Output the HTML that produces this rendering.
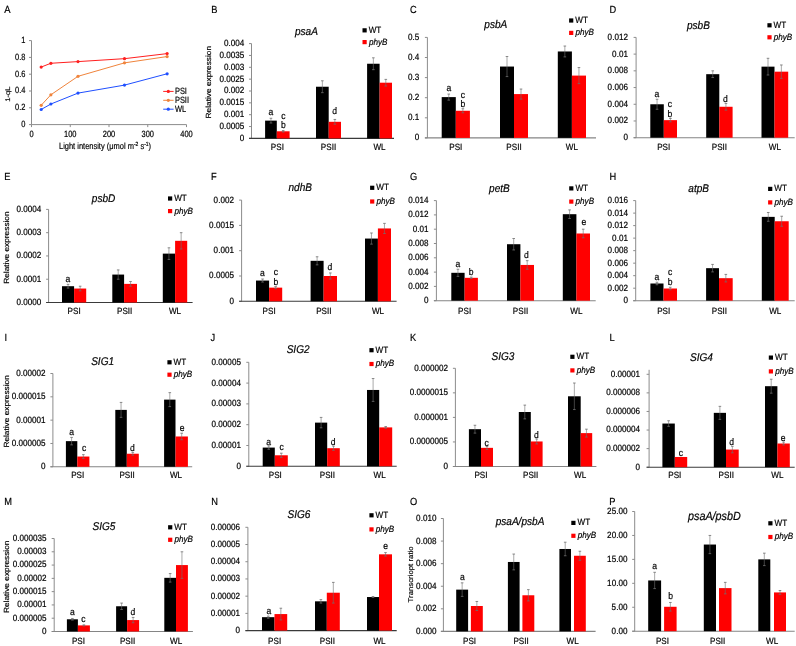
<!DOCTYPE html>
<html><head><meta charset="utf-8"><style>
html,body{margin:0;padding:0;background:#fff;}
svg{display:block;font-family:"Liberation Sans", sans-serif;}
</style></head><body>
<svg width="796" height="646" viewBox="0 0 796 646" xmlns="http://www.w3.org/2000/svg">
<defs><filter id="gs" x="0" y="0" width="796" height="646" filterUnits="userSpaceOnUse"><feColorMatrix type="saturate" values="0"/></filter></defs>
<rect width="796" height="646" fill="#fff"/>
<line x1="251.50" y1="43.60" x2="251.50" y2="138.40" stroke="#8c8c8c" stroke-width="1"/>
<line x1="249.00" y1="138.40" x2="251.50" y2="138.40" stroke="#8c8c8c" stroke-width="1"/>
<line x1="249.00" y1="126.55" x2="251.50" y2="126.55" stroke="#8c8c8c" stroke-width="1"/>
<line x1="249.00" y1="114.70" x2="251.50" y2="114.70" stroke="#8c8c8c" stroke-width="1"/>
<line x1="249.00" y1="102.85" x2="251.50" y2="102.85" stroke="#8c8c8c" stroke-width="1"/>
<line x1="249.00" y1="91.00" x2="251.50" y2="91.00" stroke="#8c8c8c" stroke-width="1"/>
<line x1="249.00" y1="79.15" x2="251.50" y2="79.15" stroke="#8c8c8c" stroke-width="1"/>
<line x1="249.00" y1="67.30" x2="251.50" y2="67.30" stroke="#8c8c8c" stroke-width="1"/>
<line x1="249.00" y1="55.45" x2="251.50" y2="55.45" stroke="#8c8c8c" stroke-width="1"/>
<line x1="249.00" y1="43.60" x2="251.50" y2="43.60" stroke="#8c8c8c" stroke-width="1"/>
<line x1="249.00" y1="138.40" x2="394.00" y2="138.40" stroke="#3a3a3a" stroke-width="1.1"/>
<rect x="265.10" y="120.62" width="11.70" height="17.78" fill="#000"/>
<rect x="276.80" y="131.29" width="12.80" height="7.11" fill="#ff0000"/>
<line x1="270.95" y1="118.25" x2="270.95" y2="123.00" stroke="#6e6e6e" stroke-width="0.6"/>
<line x1="269.65" y1="118.25" x2="272.25" y2="118.25" stroke="#6e6e6e" stroke-width="0.8"/>
<line x1="269.65" y1="123.00" x2="272.25" y2="123.00" stroke="#6e6e6e" stroke-width="0.8"/>
<line x1="283.20" y1="130.58" x2="283.20" y2="132.00" stroke="#6e6e6e" stroke-width="0.6"/>
<line x1="281.90" y1="130.58" x2="284.50" y2="130.58" stroke="#6e6e6e" stroke-width="0.8"/>
<line x1="281.90" y1="132.00" x2="284.50" y2="132.00" stroke="#6e6e6e" stroke-width="0.8"/>
<rect x="316.00" y="86.73" width="12.70" height="51.67" fill="#000"/>
<rect x="328.70" y="121.81" width="12.30" height="16.59" fill="#ff0000"/>
<line x1="322.35" y1="80.81" x2="322.35" y2="92.66" stroke="#6e6e6e" stroke-width="0.6"/>
<line x1="321.05" y1="80.81" x2="323.65" y2="80.81" stroke="#6e6e6e" stroke-width="0.8"/>
<line x1="321.05" y1="92.66" x2="323.65" y2="92.66" stroke="#6e6e6e" stroke-width="0.8"/>
<line x1="334.85" y1="119.44" x2="334.85" y2="124.18" stroke="#6e6e6e" stroke-width="0.6"/>
<line x1="333.55" y1="119.44" x2="336.15" y2="119.44" stroke="#6e6e6e" stroke-width="0.8"/>
<line x1="333.55" y1="124.18" x2="336.15" y2="124.18" stroke="#6e6e6e" stroke-width="0.8"/>
<rect x="367.10" y="63.74" width="12.50" height="74.66" fill="#000"/>
<rect x="379.60" y="82.70" width="12.40" height="55.70" fill="#ff0000"/>
<line x1="373.35" y1="57.82" x2="373.35" y2="69.67" stroke="#6e6e6e" stroke-width="0.6"/>
<line x1="372.05" y1="57.82" x2="374.65" y2="57.82" stroke="#6e6e6e" stroke-width="0.8"/>
<line x1="372.05" y1="69.67" x2="374.65" y2="69.67" stroke="#6e6e6e" stroke-width="0.8"/>
<line x1="385.80" y1="79.39" x2="385.80" y2="86.02" stroke="#6e6e6e" stroke-width="0.6"/>
<line x1="384.50" y1="79.39" x2="387.10" y2="79.39" stroke="#6e6e6e" stroke-width="0.8"/>
<line x1="384.50" y1="86.02" x2="387.10" y2="86.02" stroke="#6e6e6e" stroke-width="0.8"/>
<rect x="362.50" y="28.25" width="4.20" height="4.20" fill="#000"/>
<rect x="362.50" y="40.00" width="4.20" height="4.20" fill="#ff0000"/>
<line x1="427.40" y1="37.40" x2="427.40" y2="137.90" stroke="#8c8c8c" stroke-width="1"/>
<line x1="424.90" y1="137.90" x2="427.40" y2="137.90" stroke="#8c8c8c" stroke-width="1"/>
<line x1="424.90" y1="117.80" x2="427.40" y2="117.80" stroke="#8c8c8c" stroke-width="1"/>
<line x1="424.90" y1="97.70" x2="427.40" y2="97.70" stroke="#8c8c8c" stroke-width="1"/>
<line x1="424.90" y1="77.60" x2="427.40" y2="77.60" stroke="#8c8c8c" stroke-width="1"/>
<line x1="424.90" y1="57.50" x2="427.40" y2="57.50" stroke="#8c8c8c" stroke-width="1"/>
<line x1="424.90" y1="37.40" x2="427.40" y2="37.40" stroke="#8c8c8c" stroke-width="1"/>
<line x1="424.90" y1="137.90" x2="596.00" y2="137.90" stroke="#858585" stroke-width="1.1"/>
<rect x="441.70" y="97.10" width="14.10" height="40.80" fill="#000"/>
<rect x="455.80" y="110.77" width="14.10" height="27.14" fill="#ff0000"/>
<line x1="448.75" y1="94.08" x2="448.75" y2="100.11" stroke="#6e6e6e" stroke-width="0.6"/>
<line x1="447.45" y1="94.08" x2="450.05" y2="94.08" stroke="#6e6e6e" stroke-width="0.8"/>
<line x1="447.45" y1="100.11" x2="450.05" y2="100.11" stroke="#6e6e6e" stroke-width="0.8"/>
<line x1="462.85" y1="108.75" x2="462.85" y2="112.78" stroke="#6e6e6e" stroke-width="0.6"/>
<line x1="461.55" y1="108.75" x2="464.15" y2="108.75" stroke="#6e6e6e" stroke-width="0.8"/>
<line x1="461.55" y1="112.78" x2="464.15" y2="112.78" stroke="#6e6e6e" stroke-width="0.8"/>
<rect x="500.00" y="66.55" width="14.00" height="71.35" fill="#000"/>
<rect x="514.00" y="94.08" width="14.00" height="43.82" fill="#ff0000"/>
<line x1="507.00" y1="56.50" x2="507.00" y2="76.59" stroke="#6e6e6e" stroke-width="0.6"/>
<line x1="505.70" y1="56.50" x2="508.30" y2="56.50" stroke="#6e6e6e" stroke-width="0.8"/>
<line x1="505.70" y1="76.59" x2="508.30" y2="76.59" stroke="#6e6e6e" stroke-width="0.8"/>
<line x1="521.00" y1="89.06" x2="521.00" y2="99.11" stroke="#6e6e6e" stroke-width="0.6"/>
<line x1="519.70" y1="89.06" x2="522.30" y2="89.06" stroke="#6e6e6e" stroke-width="0.8"/>
<line x1="519.70" y1="99.11" x2="522.30" y2="99.11" stroke="#6e6e6e" stroke-width="0.8"/>
<rect x="557.80" y="51.47" width="14.10" height="86.43" fill="#000"/>
<rect x="571.90" y="75.59" width="14.10" height="62.31" fill="#ff0000"/>
<line x1="564.85" y1="46.04" x2="564.85" y2="56.90" stroke="#6e6e6e" stroke-width="0.6"/>
<line x1="563.55" y1="46.04" x2="566.15" y2="46.04" stroke="#6e6e6e" stroke-width="0.8"/>
<line x1="563.55" y1="56.90" x2="566.15" y2="56.90" stroke="#6e6e6e" stroke-width="0.8"/>
<line x1="578.95" y1="67.55" x2="578.95" y2="83.63" stroke="#6e6e6e" stroke-width="0.6"/>
<line x1="577.65" y1="67.55" x2="580.25" y2="67.55" stroke="#6e6e6e" stroke-width="0.8"/>
<line x1="577.65" y1="83.63" x2="580.25" y2="83.63" stroke="#6e6e6e" stroke-width="0.8"/>
<rect x="569.10" y="18.40" width="4.20" height="4.20" fill="#000"/>
<rect x="569.10" y="30.80" width="4.20" height="4.20" fill="#ff0000"/>
<line x1="636.10" y1="37.40" x2="636.10" y2="137.70" stroke="#8c8c8c" stroke-width="1"/>
<line x1="633.60" y1="137.70" x2="636.10" y2="137.70" stroke="#8c8c8c" stroke-width="1"/>
<line x1="633.60" y1="120.98" x2="636.10" y2="120.98" stroke="#8c8c8c" stroke-width="1"/>
<line x1="633.60" y1="104.27" x2="636.10" y2="104.27" stroke="#8c8c8c" stroke-width="1"/>
<line x1="633.60" y1="87.55" x2="636.10" y2="87.55" stroke="#8c8c8c" stroke-width="1"/>
<line x1="633.60" y1="70.83" x2="636.10" y2="70.83" stroke="#8c8c8c" stroke-width="1"/>
<line x1="633.60" y1="54.12" x2="636.10" y2="54.12" stroke="#8c8c8c" stroke-width="1"/>
<line x1="633.60" y1="37.40" x2="636.10" y2="37.40" stroke="#8c8c8c" stroke-width="1"/>
<line x1="633.60" y1="137.70" x2="794.70" y2="137.70" stroke="#858585" stroke-width="1.1"/>
<rect x="650.30" y="104.27" width="13.50" height="33.43" fill="#000"/>
<rect x="663.80" y="120.15" width="13.20" height="17.55" fill="#ff0000"/>
<line x1="657.05" y1="99.25" x2="657.05" y2="109.28" stroke="#6e6e6e" stroke-width="0.6"/>
<line x1="655.75" y1="99.25" x2="658.35" y2="99.25" stroke="#6e6e6e" stroke-width="0.8"/>
<line x1="655.75" y1="109.28" x2="658.35" y2="109.28" stroke="#6e6e6e" stroke-width="0.8"/>
<line x1="670.40" y1="118.48" x2="670.40" y2="121.82" stroke="#6e6e6e" stroke-width="0.6"/>
<line x1="669.10" y1="118.48" x2="671.70" y2="118.48" stroke="#6e6e6e" stroke-width="0.8"/>
<line x1="669.10" y1="121.82" x2="671.70" y2="121.82" stroke="#6e6e6e" stroke-width="0.8"/>
<rect x="706.20" y="74.18" width="13.10" height="63.52" fill="#000"/>
<rect x="719.30" y="106.77" width="13.30" height="30.93" fill="#ff0000"/>
<line x1="712.75" y1="70.83" x2="712.75" y2="77.52" stroke="#6e6e6e" stroke-width="0.6"/>
<line x1="711.45" y1="70.83" x2="714.05" y2="70.83" stroke="#6e6e6e" stroke-width="0.8"/>
<line x1="711.45" y1="77.52" x2="714.05" y2="77.52" stroke="#6e6e6e" stroke-width="0.8"/>
<line x1="725.95" y1="103.43" x2="725.95" y2="110.12" stroke="#6e6e6e" stroke-width="0.6"/>
<line x1="724.65" y1="103.43" x2="727.25" y2="103.43" stroke="#6e6e6e" stroke-width="0.8"/>
<line x1="724.65" y1="110.12" x2="727.25" y2="110.12" stroke="#6e6e6e" stroke-width="0.8"/>
<rect x="761.50" y="66.65" width="13.00" height="71.05" fill="#000"/>
<rect x="774.50" y="71.67" width="13.70" height="66.03" fill="#ff0000"/>
<line x1="768.00" y1="58.30" x2="768.00" y2="75.01" stroke="#6e6e6e" stroke-width="0.6"/>
<line x1="766.70" y1="58.30" x2="769.30" y2="58.30" stroke="#6e6e6e" stroke-width="0.8"/>
<line x1="766.70" y1="75.01" x2="769.30" y2="75.01" stroke="#6e6e6e" stroke-width="0.8"/>
<line x1="781.35" y1="64.98" x2="781.35" y2="78.36" stroke="#6e6e6e" stroke-width="0.6"/>
<line x1="780.05" y1="64.98" x2="782.65" y2="64.98" stroke="#6e6e6e" stroke-width="0.8"/>
<line x1="780.05" y1="78.36" x2="782.65" y2="78.36" stroke="#6e6e6e" stroke-width="0.8"/>
<rect x="767.40" y="23.20" width="4.20" height="4.20" fill="#000"/>
<rect x="767.40" y="35.20" width="4.20" height="4.20" fill="#ff0000"/>
<line x1="48.60" y1="209.40" x2="48.60" y2="302.50" stroke="#8c8c8c" stroke-width="1"/>
<line x1="46.10" y1="302.50" x2="48.60" y2="302.50" stroke="#8c8c8c" stroke-width="1"/>
<line x1="46.10" y1="279.23" x2="48.60" y2="279.23" stroke="#8c8c8c" stroke-width="1"/>
<line x1="46.10" y1="255.95" x2="48.60" y2="255.95" stroke="#8c8c8c" stroke-width="1"/>
<line x1="46.10" y1="232.68" x2="48.60" y2="232.68" stroke="#8c8c8c" stroke-width="1"/>
<line x1="46.10" y1="209.40" x2="48.60" y2="209.40" stroke="#8c8c8c" stroke-width="1"/>
<line x1="46.10" y1="302.50" x2="192.60" y2="302.50" stroke="#3a3a3a" stroke-width="1.1"/>
<rect x="62.00" y="286.21" width="12.10" height="16.29" fill="#000"/>
<rect x="74.10" y="288.54" width="12.10" height="13.96" fill="#ff0000"/>
<line x1="68.05" y1="284.35" x2="68.05" y2="288.07" stroke="#6e6e6e" stroke-width="0.6"/>
<line x1="66.75" y1="284.35" x2="69.35" y2="284.35" stroke="#6e6e6e" stroke-width="0.8"/>
<line x1="66.75" y1="288.07" x2="69.35" y2="288.07" stroke="#6e6e6e" stroke-width="0.8"/>
<line x1="80.15" y1="286.21" x2="80.15" y2="290.86" stroke="#6e6e6e" stroke-width="0.6"/>
<line x1="78.85" y1="286.21" x2="81.45" y2="286.21" stroke="#6e6e6e" stroke-width="0.8"/>
<line x1="78.85" y1="290.86" x2="81.45" y2="290.86" stroke="#6e6e6e" stroke-width="0.8"/>
<rect x="112.30" y="274.57" width="11.80" height="27.93" fill="#000"/>
<rect x="124.10" y="283.88" width="12.90" height="18.62" fill="#ff0000"/>
<line x1="118.20" y1="269.92" x2="118.20" y2="279.23" stroke="#6e6e6e" stroke-width="0.6"/>
<line x1="116.90" y1="269.92" x2="119.50" y2="269.92" stroke="#6e6e6e" stroke-width="0.8"/>
<line x1="116.90" y1="279.23" x2="119.50" y2="279.23" stroke="#6e6e6e" stroke-width="0.8"/>
<line x1="130.55" y1="281.55" x2="130.55" y2="286.21" stroke="#6e6e6e" stroke-width="0.6"/>
<line x1="129.25" y1="281.55" x2="131.85" y2="281.55" stroke="#6e6e6e" stroke-width="0.8"/>
<line x1="129.25" y1="286.21" x2="131.85" y2="286.21" stroke="#6e6e6e" stroke-width="0.8"/>
<rect x="162.80" y="253.62" width="12.30" height="48.88" fill="#000"/>
<rect x="175.10" y="240.82" width="12.10" height="61.68" fill="#ff0000"/>
<line x1="168.95" y1="247.80" x2="168.95" y2="259.44" stroke="#6e6e6e" stroke-width="0.6"/>
<line x1="167.65" y1="247.80" x2="170.25" y2="247.80" stroke="#6e6e6e" stroke-width="0.8"/>
<line x1="167.65" y1="259.44" x2="170.25" y2="259.44" stroke="#6e6e6e" stroke-width="0.8"/>
<line x1="181.15" y1="232.68" x2="181.15" y2="248.97" stroke="#6e6e6e" stroke-width="0.6"/>
<line x1="179.85" y1="232.68" x2="182.45" y2="232.68" stroke="#6e6e6e" stroke-width="0.8"/>
<line x1="179.85" y1="248.97" x2="182.45" y2="248.97" stroke="#6e6e6e" stroke-width="0.8"/>
<rect x="168.00" y="196.40" width="4.20" height="4.20" fill="#000"/>
<rect x="168.00" y="209.00" width="4.20" height="4.20" fill="#ff0000"/>
<line x1="241.60" y1="200.10" x2="241.60" y2="301.30" stroke="#8c8c8c" stroke-width="1"/>
<line x1="239.10" y1="301.30" x2="241.60" y2="301.30" stroke="#8c8c8c" stroke-width="1"/>
<line x1="239.10" y1="276.00" x2="241.60" y2="276.00" stroke="#8c8c8c" stroke-width="1"/>
<line x1="239.10" y1="250.70" x2="241.60" y2="250.70" stroke="#8c8c8c" stroke-width="1"/>
<line x1="239.10" y1="225.40" x2="241.60" y2="225.40" stroke="#8c8c8c" stroke-width="1"/>
<line x1="239.10" y1="200.10" x2="241.60" y2="200.10" stroke="#8c8c8c" stroke-width="1"/>
<line x1="239.10" y1="301.30" x2="396.60" y2="301.30" stroke="#3a3a3a" stroke-width="1.1"/>
<rect x="256.00" y="280.55" width="13.10" height="20.75" fill="#000"/>
<rect x="269.10" y="287.64" width="13.10" height="13.66" fill="#ff0000"/>
<line x1="262.55" y1="279.04" x2="262.55" y2="282.07" stroke="#6e6e6e" stroke-width="0.6"/>
<line x1="261.25" y1="279.04" x2="263.85" y2="279.04" stroke="#6e6e6e" stroke-width="0.8"/>
<line x1="261.25" y1="282.07" x2="263.85" y2="282.07" stroke="#6e6e6e" stroke-width="0.8"/>
<line x1="275.65" y1="286.63" x2="275.65" y2="288.65" stroke="#6e6e6e" stroke-width="0.6"/>
<line x1="274.35" y1="286.63" x2="276.95" y2="286.63" stroke="#6e6e6e" stroke-width="0.8"/>
<line x1="274.35" y1="288.65" x2="276.95" y2="288.65" stroke="#6e6e6e" stroke-width="0.8"/>
<rect x="310.60" y="260.82" width="13.00" height="40.48" fill="#000"/>
<rect x="323.60" y="276.00" width="13.40" height="25.30" fill="#ff0000"/>
<line x1="317.10" y1="256.77" x2="317.10" y2="264.87" stroke="#6e6e6e" stroke-width="0.6"/>
<line x1="315.80" y1="256.77" x2="318.40" y2="256.77" stroke="#6e6e6e" stroke-width="0.8"/>
<line x1="315.80" y1="264.87" x2="318.40" y2="264.87" stroke="#6e6e6e" stroke-width="0.8"/>
<line x1="330.30" y1="272.96" x2="330.30" y2="279.04" stroke="#6e6e6e" stroke-width="0.6"/>
<line x1="329.00" y1="272.96" x2="331.60" y2="272.96" stroke="#6e6e6e" stroke-width="0.8"/>
<line x1="329.00" y1="279.04" x2="331.60" y2="279.04" stroke="#6e6e6e" stroke-width="0.8"/>
<rect x="365.00" y="238.56" width="12.90" height="62.74" fill="#000"/>
<rect x="377.90" y="228.44" width="13.10" height="72.86" fill="#ff0000"/>
<line x1="371.45" y1="232.99" x2="371.45" y2="244.12" stroke="#6e6e6e" stroke-width="0.6"/>
<line x1="370.15" y1="232.99" x2="372.75" y2="232.99" stroke="#6e6e6e" stroke-width="0.8"/>
<line x1="370.15" y1="244.12" x2="372.75" y2="244.12" stroke="#6e6e6e" stroke-width="0.8"/>
<line x1="384.45" y1="223.38" x2="384.45" y2="233.50" stroke="#6e6e6e" stroke-width="0.6"/>
<line x1="383.15" y1="223.38" x2="385.75" y2="223.38" stroke="#6e6e6e" stroke-width="0.8"/>
<line x1="383.15" y1="233.50" x2="385.75" y2="233.50" stroke="#6e6e6e" stroke-width="0.8"/>
<rect x="370.10" y="185.70" width="4.20" height="4.20" fill="#000"/>
<rect x="370.10" y="199.40" width="4.20" height="4.20" fill="#ff0000"/>
<line x1="436.40" y1="200.60" x2="436.40" y2="300.70" stroke="#8c8c8c" stroke-width="1"/>
<line x1="433.90" y1="300.70" x2="436.40" y2="300.70" stroke="#8c8c8c" stroke-width="1"/>
<line x1="433.90" y1="286.40" x2="436.40" y2="286.40" stroke="#8c8c8c" stroke-width="1"/>
<line x1="433.90" y1="272.10" x2="436.40" y2="272.10" stroke="#8c8c8c" stroke-width="1"/>
<line x1="433.90" y1="257.80" x2="436.40" y2="257.80" stroke="#8c8c8c" stroke-width="1"/>
<line x1="433.90" y1="243.50" x2="436.40" y2="243.50" stroke="#8c8c8c" stroke-width="1"/>
<line x1="433.90" y1="229.20" x2="436.40" y2="229.20" stroke="#8c8c8c" stroke-width="1"/>
<line x1="433.90" y1="214.90" x2="436.40" y2="214.90" stroke="#8c8c8c" stroke-width="1"/>
<line x1="433.90" y1="200.60" x2="436.40" y2="200.60" stroke="#8c8c8c" stroke-width="1"/>
<line x1="433.90" y1="300.70" x2="595.70" y2="300.70" stroke="#858585" stroke-width="1.1"/>
<rect x="451.30" y="272.81" width="13.30" height="27.88" fill="#000"/>
<rect x="464.60" y="277.82" width="13.30" height="22.88" fill="#ff0000"/>
<line x1="457.95" y1="269.24" x2="457.95" y2="276.39" stroke="#6e6e6e" stroke-width="0.6"/>
<line x1="456.65" y1="269.24" x2="459.25" y2="269.24" stroke="#6e6e6e" stroke-width="0.8"/>
<line x1="456.65" y1="276.39" x2="459.25" y2="276.39" stroke="#6e6e6e" stroke-width="0.8"/>
<line x1="471.25" y1="277.11" x2="471.25" y2="278.53" stroke="#6e6e6e" stroke-width="0.6"/>
<line x1="469.95" y1="277.11" x2="472.55" y2="277.11" stroke="#6e6e6e" stroke-width="0.8"/>
<line x1="469.95" y1="278.53" x2="472.55" y2="278.53" stroke="#6e6e6e" stroke-width="0.8"/>
<rect x="507.00" y="244.21" width="13.40" height="56.49" fill="#000"/>
<rect x="520.40" y="264.95" width="13.60" height="35.75" fill="#ff0000"/>
<line x1="513.70" y1="238.50" x2="513.70" y2="249.94" stroke="#6e6e6e" stroke-width="0.6"/>
<line x1="512.40" y1="238.50" x2="515.00" y2="238.50" stroke="#6e6e6e" stroke-width="0.8"/>
<line x1="512.40" y1="249.94" x2="515.00" y2="249.94" stroke="#6e6e6e" stroke-width="0.8"/>
<line x1="527.20" y1="260.66" x2="527.20" y2="269.24" stroke="#6e6e6e" stroke-width="0.6"/>
<line x1="525.90" y1="260.66" x2="528.50" y2="260.66" stroke="#6e6e6e" stroke-width="0.8"/>
<line x1="525.90" y1="269.24" x2="528.50" y2="269.24" stroke="#6e6e6e" stroke-width="0.8"/>
<rect x="562.80" y="214.19" width="13.60" height="86.51" fill="#000"/>
<rect x="576.40" y="233.49" width="13.60" height="67.21" fill="#ff0000"/>
<line x1="569.60" y1="209.90" x2="569.60" y2="218.47" stroke="#6e6e6e" stroke-width="0.6"/>
<line x1="568.30" y1="209.90" x2="570.90" y2="209.90" stroke="#6e6e6e" stroke-width="0.8"/>
<line x1="568.30" y1="218.47" x2="570.90" y2="218.47" stroke="#6e6e6e" stroke-width="0.8"/>
<line x1="583.20" y1="229.20" x2="583.20" y2="237.78" stroke="#6e6e6e" stroke-width="0.6"/>
<line x1="581.90" y1="229.20" x2="584.50" y2="229.20" stroke="#6e6e6e" stroke-width="0.8"/>
<line x1="581.90" y1="237.78" x2="584.50" y2="237.78" stroke="#6e6e6e" stroke-width="0.8"/>
<rect x="569.20" y="186.30" width="4.20" height="4.20" fill="#000"/>
<rect x="569.20" y="199.50" width="4.20" height="4.20" fill="#ff0000"/>
<line x1="635.70" y1="200.60" x2="635.70" y2="300.70" stroke="#8c8c8c" stroke-width="1"/>
<line x1="633.20" y1="300.70" x2="635.70" y2="300.70" stroke="#8c8c8c" stroke-width="1"/>
<line x1="633.20" y1="288.19" x2="635.70" y2="288.19" stroke="#8c8c8c" stroke-width="1"/>
<line x1="633.20" y1="275.68" x2="635.70" y2="275.68" stroke="#8c8c8c" stroke-width="1"/>
<line x1="633.20" y1="263.16" x2="635.70" y2="263.16" stroke="#8c8c8c" stroke-width="1"/>
<line x1="633.20" y1="250.65" x2="635.70" y2="250.65" stroke="#8c8c8c" stroke-width="1"/>
<line x1="633.20" y1="238.14" x2="635.70" y2="238.14" stroke="#8c8c8c" stroke-width="1"/>
<line x1="633.20" y1="225.62" x2="635.70" y2="225.62" stroke="#8c8c8c" stroke-width="1"/>
<line x1="633.20" y1="213.11" x2="635.70" y2="213.11" stroke="#8c8c8c" stroke-width="1"/>
<line x1="633.20" y1="200.60" x2="635.70" y2="200.60" stroke="#8c8c8c" stroke-width="1"/>
<line x1="633.20" y1="300.70" x2="794.70" y2="300.70" stroke="#858585" stroke-width="1.1"/>
<rect x="650.40" y="283.50" width="13.10" height="17.20" fill="#000"/>
<rect x="663.50" y="288.50" width="13.50" height="12.20" fill="#ff0000"/>
<line x1="656.95" y1="282.24" x2="656.95" y2="284.75" stroke="#6e6e6e" stroke-width="0.6"/>
<line x1="655.65" y1="282.24" x2="658.25" y2="282.24" stroke="#6e6e6e" stroke-width="0.8"/>
<line x1="655.65" y1="284.75" x2="658.25" y2="284.75" stroke="#6e6e6e" stroke-width="0.8"/>
<line x1="670.25" y1="287.25" x2="670.25" y2="289.75" stroke="#6e6e6e" stroke-width="0.6"/>
<line x1="668.95" y1="287.25" x2="671.55" y2="287.25" stroke="#6e6e6e" stroke-width="0.8"/>
<line x1="668.95" y1="289.75" x2="671.55" y2="289.75" stroke="#6e6e6e" stroke-width="0.8"/>
<rect x="706.10" y="268.17" width="12.90" height="32.53" fill="#000"/>
<rect x="719.00" y="278.18" width="13.70" height="22.52" fill="#ff0000"/>
<line x1="712.55" y1="264.41" x2="712.55" y2="271.92" stroke="#6e6e6e" stroke-width="0.6"/>
<line x1="711.25" y1="264.41" x2="713.85" y2="264.41" stroke="#6e6e6e" stroke-width="0.8"/>
<line x1="711.25" y1="271.92" x2="713.85" y2="271.92" stroke="#6e6e6e" stroke-width="0.8"/>
<line x1="725.85" y1="274.42" x2="725.85" y2="281.93" stroke="#6e6e6e" stroke-width="0.6"/>
<line x1="724.55" y1="274.42" x2="727.15" y2="274.42" stroke="#6e6e6e" stroke-width="0.8"/>
<line x1="724.55" y1="281.93" x2="727.15" y2="281.93" stroke="#6e6e6e" stroke-width="0.8"/>
<rect x="761.80" y="216.87" width="12.90" height="83.83" fill="#000"/>
<rect x="774.70" y="221.25" width="14.00" height="79.45" fill="#ff0000"/>
<line x1="768.25" y1="212.49" x2="768.25" y2="221.25" stroke="#6e6e6e" stroke-width="0.6"/>
<line x1="766.95" y1="212.49" x2="769.55" y2="212.49" stroke="#6e6e6e" stroke-width="0.8"/>
<line x1="766.95" y1="221.25" x2="769.55" y2="221.25" stroke="#6e6e6e" stroke-width="0.8"/>
<line x1="781.70" y1="216.24" x2="781.70" y2="226.25" stroke="#6e6e6e" stroke-width="0.6"/>
<line x1="780.40" y1="216.24" x2="783.00" y2="216.24" stroke="#6e6e6e" stroke-width="0.8"/>
<line x1="780.40" y1="226.25" x2="783.00" y2="226.25" stroke="#6e6e6e" stroke-width="0.8"/>
<rect x="768.10" y="186.80" width="4.20" height="4.20" fill="#000"/>
<rect x="768.10" y="200.30" width="4.20" height="4.20" fill="#ff0000"/>
<line x1="52.90" y1="373.50" x2="52.90" y2="466.80" stroke="#8c8c8c" stroke-width="1"/>
<line x1="50.40" y1="466.80" x2="52.90" y2="466.80" stroke="#8c8c8c" stroke-width="1"/>
<line x1="50.40" y1="443.48" x2="52.90" y2="443.48" stroke="#8c8c8c" stroke-width="1"/>
<line x1="50.40" y1="420.15" x2="52.90" y2="420.15" stroke="#8c8c8c" stroke-width="1"/>
<line x1="50.40" y1="396.82" x2="52.90" y2="396.82" stroke="#8c8c8c" stroke-width="1"/>
<line x1="50.40" y1="373.50" x2="52.90" y2="373.50" stroke="#8c8c8c" stroke-width="1"/>
<line x1="50.40" y1="466.80" x2="192.20" y2="466.80" stroke="#858585" stroke-width="1.1"/>
<rect x="65.90" y="441.14" width="11.40" height="25.66" fill="#000"/>
<rect x="77.30" y="456.54" width="12.10" height="10.26" fill="#ff0000"/>
<line x1="71.60" y1="437.41" x2="71.60" y2="444.87" stroke="#6e6e6e" stroke-width="0.6"/>
<line x1="70.30" y1="437.41" x2="72.90" y2="437.41" stroke="#6e6e6e" stroke-width="0.8"/>
<line x1="70.30" y1="444.87" x2="72.90" y2="444.87" stroke="#6e6e6e" stroke-width="0.8"/>
<line x1="83.35" y1="454.67" x2="83.35" y2="458.40" stroke="#6e6e6e" stroke-width="0.6"/>
<line x1="82.05" y1="454.67" x2="84.65" y2="454.67" stroke="#6e6e6e" stroke-width="0.8"/>
<line x1="82.05" y1="458.40" x2="84.65" y2="458.40" stroke="#6e6e6e" stroke-width="0.8"/>
<rect x="115.30" y="409.89" width="11.50" height="56.91" fill="#000"/>
<rect x="126.80" y="453.74" width="12.00" height="13.06" fill="#ff0000"/>
<line x1="121.05" y1="402.42" x2="121.05" y2="417.35" stroke="#6e6e6e" stroke-width="0.6"/>
<line x1="119.75" y1="402.42" x2="122.35" y2="402.42" stroke="#6e6e6e" stroke-width="0.8"/>
<line x1="119.75" y1="417.35" x2="122.35" y2="417.35" stroke="#6e6e6e" stroke-width="0.8"/>
<line x1="132.80" y1="452.34" x2="132.80" y2="455.14" stroke="#6e6e6e" stroke-width="0.6"/>
<line x1="131.50" y1="452.34" x2="134.10" y2="452.34" stroke="#6e6e6e" stroke-width="0.8"/>
<line x1="131.50" y1="455.14" x2="134.10" y2="455.14" stroke="#6e6e6e" stroke-width="0.8"/>
<rect x="164.10" y="399.62" width="11.40" height="67.18" fill="#000"/>
<rect x="175.50" y="436.48" width="12.40" height="30.32" fill="#ff0000"/>
<line x1="169.80" y1="392.63" x2="169.80" y2="406.62" stroke="#6e6e6e" stroke-width="0.6"/>
<line x1="168.50" y1="392.63" x2="171.10" y2="392.63" stroke="#6e6e6e" stroke-width="0.8"/>
<line x1="168.50" y1="406.62" x2="171.10" y2="406.62" stroke="#6e6e6e" stroke-width="0.8"/>
<line x1="181.70" y1="433.21" x2="181.70" y2="439.74" stroke="#6e6e6e" stroke-width="0.6"/>
<line x1="180.40" y1="433.21" x2="183.00" y2="433.21" stroke="#6e6e6e" stroke-width="0.8"/>
<line x1="180.40" y1="439.74" x2="183.00" y2="439.74" stroke="#6e6e6e" stroke-width="0.8"/>
<rect x="167.40" y="360.20" width="4.20" height="4.20" fill="#000"/>
<rect x="167.40" y="372.60" width="4.20" height="4.20" fill="#ff0000"/>
<line x1="248.80" y1="362.30" x2="248.80" y2="466.30" stroke="#8c8c8c" stroke-width="1"/>
<line x1="246.30" y1="466.30" x2="248.80" y2="466.30" stroke="#8c8c8c" stroke-width="1"/>
<line x1="246.30" y1="445.50" x2="248.80" y2="445.50" stroke="#8c8c8c" stroke-width="1"/>
<line x1="246.30" y1="424.70" x2="248.80" y2="424.70" stroke="#8c8c8c" stroke-width="1"/>
<line x1="246.30" y1="403.90" x2="248.80" y2="403.90" stroke="#8c8c8c" stroke-width="1"/>
<line x1="246.30" y1="383.10" x2="248.80" y2="383.10" stroke="#8c8c8c" stroke-width="1"/>
<line x1="246.30" y1="362.30" x2="248.80" y2="362.30" stroke="#8c8c8c" stroke-width="1"/>
<line x1="246.30" y1="466.30" x2="396.70" y2="466.30" stroke="#3a3a3a" stroke-width="1.1"/>
<rect x="262.70" y="447.58" width="12.10" height="18.72" fill="#000"/>
<rect x="274.80" y="455.28" width="13.00" height="11.02" fill="#ff0000"/>
<line x1="268.75" y1="445.92" x2="268.75" y2="449.24" stroke="#6e6e6e" stroke-width="0.6"/>
<line x1="267.45" y1="445.92" x2="270.05" y2="445.92" stroke="#6e6e6e" stroke-width="0.8"/>
<line x1="267.45" y1="449.24" x2="270.05" y2="449.24" stroke="#6e6e6e" stroke-width="0.8"/>
<line x1="281.30" y1="453.20" x2="281.30" y2="457.36" stroke="#6e6e6e" stroke-width="0.6"/>
<line x1="280.00" y1="453.20" x2="282.60" y2="453.20" stroke="#6e6e6e" stroke-width="0.8"/>
<line x1="280.00" y1="457.36" x2="282.60" y2="457.36" stroke="#6e6e6e" stroke-width="0.8"/>
<rect x="315.00" y="422.62" width="12.20" height="43.68" fill="#000"/>
<rect x="327.20" y="448.20" width="12.60" height="18.10" fill="#ff0000"/>
<line x1="321.10" y1="417.42" x2="321.10" y2="427.82" stroke="#6e6e6e" stroke-width="0.6"/>
<line x1="319.80" y1="417.42" x2="322.40" y2="417.42" stroke="#6e6e6e" stroke-width="0.8"/>
<line x1="319.80" y1="427.82" x2="322.40" y2="427.82" stroke="#6e6e6e" stroke-width="0.8"/>
<line x1="333.50" y1="446.12" x2="333.50" y2="450.28" stroke="#6e6e6e" stroke-width="0.6"/>
<line x1="332.20" y1="446.12" x2="334.80" y2="446.12" stroke="#6e6e6e" stroke-width="0.8"/>
<line x1="332.20" y1="450.28" x2="334.80" y2="450.28" stroke="#6e6e6e" stroke-width="0.8"/>
<rect x="367.00" y="389.96" width="12.20" height="76.34" fill="#000"/>
<rect x="379.20" y="427.40" width="13.00" height="38.90" fill="#ff0000"/>
<line x1="373.10" y1="378.52" x2="373.10" y2="401.40" stroke="#6e6e6e" stroke-width="0.6"/>
<line x1="371.80" y1="378.52" x2="374.40" y2="378.52" stroke="#6e6e6e" stroke-width="0.8"/>
<line x1="371.80" y1="401.40" x2="374.40" y2="401.40" stroke="#6e6e6e" stroke-width="0.8"/>
<line x1="385.70" y1="426.57" x2="385.70" y2="428.24" stroke="#6e6e6e" stroke-width="0.6"/>
<line x1="384.40" y1="426.57" x2="387.00" y2="426.57" stroke="#6e6e6e" stroke-width="0.8"/>
<line x1="384.40" y1="428.24" x2="387.00" y2="428.24" stroke="#6e6e6e" stroke-width="0.8"/>
<rect x="369.40" y="348.10" width="4.20" height="4.20" fill="#000"/>
<rect x="369.40" y="361.90" width="4.20" height="4.20" fill="#ff0000"/>
<line x1="455.40" y1="368.30" x2="455.40" y2="466.50" stroke="#8c8c8c" stroke-width="1"/>
<line x1="452.90" y1="466.50" x2="455.40" y2="466.50" stroke="#8c8c8c" stroke-width="1"/>
<line x1="452.90" y1="441.95" x2="455.40" y2="441.95" stroke="#8c8c8c" stroke-width="1"/>
<line x1="452.90" y1="417.40" x2="455.40" y2="417.40" stroke="#8c8c8c" stroke-width="1"/>
<line x1="452.90" y1="392.85" x2="455.40" y2="392.85" stroke="#8c8c8c" stroke-width="1"/>
<line x1="452.90" y1="368.30" x2="455.40" y2="368.30" stroke="#8c8c8c" stroke-width="1"/>
<line x1="452.90" y1="466.50" x2="596.40" y2="466.50" stroke="#858585" stroke-width="1.1"/>
<rect x="468.90" y="429.18" width="12.10" height="37.32" fill="#000"/>
<rect x="481.00" y="447.84" width="12.00" height="18.66" fill="#ff0000"/>
<line x1="474.95" y1="425.26" x2="474.95" y2="433.11" stroke="#6e6e6e" stroke-width="0.6"/>
<line x1="473.65" y1="425.26" x2="476.25" y2="425.26" stroke="#6e6e6e" stroke-width="0.8"/>
<line x1="473.65" y1="433.11" x2="476.25" y2="433.11" stroke="#6e6e6e" stroke-width="0.8"/>
<line x1="487.00" y1="446.37" x2="487.00" y2="449.31" stroke="#6e6e6e" stroke-width="0.6"/>
<line x1="485.70" y1="446.37" x2="488.30" y2="446.37" stroke="#6e6e6e" stroke-width="0.8"/>
<line x1="485.70" y1="449.31" x2="488.30" y2="449.31" stroke="#6e6e6e" stroke-width="0.8"/>
<rect x="518.80" y="412.00" width="12.00" height="54.50" fill="#000"/>
<rect x="530.80" y="441.46" width="11.80" height="25.04" fill="#ff0000"/>
<line x1="524.80" y1="405.12" x2="524.80" y2="418.87" stroke="#6e6e6e" stroke-width="0.6"/>
<line x1="523.50" y1="405.12" x2="526.10" y2="405.12" stroke="#6e6e6e" stroke-width="0.8"/>
<line x1="523.50" y1="418.87" x2="526.10" y2="418.87" stroke="#6e6e6e" stroke-width="0.8"/>
<line x1="536.70" y1="439.00" x2="536.70" y2="443.91" stroke="#6e6e6e" stroke-width="0.6"/>
<line x1="535.40" y1="439.00" x2="538.00" y2="439.00" stroke="#6e6e6e" stroke-width="0.8"/>
<line x1="535.40" y1="443.91" x2="538.00" y2="443.91" stroke="#6e6e6e" stroke-width="0.8"/>
<rect x="568.00" y="396.29" width="12.70" height="70.21" fill="#000"/>
<rect x="580.70" y="433.11" width="11.50" height="33.39" fill="#ff0000"/>
<line x1="574.35" y1="383.03" x2="574.35" y2="409.54" stroke="#6e6e6e" stroke-width="0.6"/>
<line x1="573.05" y1="383.03" x2="575.65" y2="383.03" stroke="#6e6e6e" stroke-width="0.8"/>
<line x1="573.05" y1="409.54" x2="575.65" y2="409.54" stroke="#6e6e6e" stroke-width="0.8"/>
<line x1="586.45" y1="429.18" x2="586.45" y2="437.04" stroke="#6e6e6e" stroke-width="0.6"/>
<line x1="585.15" y1="429.18" x2="587.75" y2="429.18" stroke="#6e6e6e" stroke-width="0.8"/>
<line x1="585.15" y1="437.04" x2="587.75" y2="437.04" stroke="#6e6e6e" stroke-width="0.8"/>
<rect x="570.30" y="354.70" width="4.20" height="4.20" fill="#000"/>
<rect x="570.30" y="368.30" width="4.20" height="4.20" fill="#ff0000"/>
<line x1="649.10" y1="369.80" x2="649.10" y2="467.20" stroke="#8c8c8c" stroke-width="1"/>
<line x1="646.60" y1="467.20" x2="649.10" y2="467.20" stroke="#8c8c8c" stroke-width="1"/>
<line x1="646.60" y1="448.62" x2="649.10" y2="448.62" stroke="#8c8c8c" stroke-width="1"/>
<line x1="646.60" y1="430.04" x2="649.10" y2="430.04" stroke="#8c8c8c" stroke-width="1"/>
<line x1="646.60" y1="411.46" x2="649.10" y2="411.46" stroke="#8c8c8c" stroke-width="1"/>
<line x1="646.60" y1="392.88" x2="649.10" y2="392.88" stroke="#8c8c8c" stroke-width="1"/>
<line x1="646.60" y1="374.30" x2="649.10" y2="374.30" stroke="#8c8c8c" stroke-width="1"/>
<line x1="646.60" y1="467.20" x2="794.70" y2="467.20" stroke="#3a3a3a" stroke-width="1.1"/>
<rect x="662.40" y="423.54" width="12.40" height="43.66" fill="#000"/>
<rect x="674.80" y="456.98" width="12.40" height="10.22" fill="#ff0000"/>
<line x1="668.60" y1="420.75" x2="668.60" y2="426.32" stroke="#6e6e6e" stroke-width="0.6"/>
<line x1="667.30" y1="420.75" x2="669.90" y2="420.75" stroke="#6e6e6e" stroke-width="0.8"/>
<line x1="667.30" y1="426.32" x2="669.90" y2="426.32" stroke="#6e6e6e" stroke-width="0.8"/>
<rect x="713.80" y="412.85" width="12.20" height="54.35" fill="#000"/>
<rect x="726.00" y="449.55" width="12.70" height="17.65" fill="#ff0000"/>
<line x1="719.90" y1="406.35" x2="719.90" y2="419.36" stroke="#6e6e6e" stroke-width="0.6"/>
<line x1="718.60" y1="406.35" x2="721.20" y2="406.35" stroke="#6e6e6e" stroke-width="0.8"/>
<line x1="718.60" y1="419.36" x2="721.20" y2="419.36" stroke="#6e6e6e" stroke-width="0.8"/>
<line x1="732.35" y1="446.30" x2="732.35" y2="452.80" stroke="#6e6e6e" stroke-width="0.6"/>
<line x1="731.05" y1="446.30" x2="733.65" y2="446.30" stroke="#6e6e6e" stroke-width="0.8"/>
<line x1="731.05" y1="452.80" x2="733.65" y2="452.80" stroke="#6e6e6e" stroke-width="0.8"/>
<rect x="765.00" y="386.19" width="12.40" height="81.01" fill="#000"/>
<rect x="777.40" y="443.51" width="12.40" height="23.69" fill="#ff0000"/>
<line x1="771.20" y1="379.22" x2="771.20" y2="393.16" stroke="#6e6e6e" stroke-width="0.6"/>
<line x1="769.90" y1="379.22" x2="772.50" y2="379.22" stroke="#6e6e6e" stroke-width="0.8"/>
<line x1="769.90" y1="393.16" x2="772.50" y2="393.16" stroke="#6e6e6e" stroke-width="0.8"/>
<line x1="783.60" y1="442.12" x2="783.60" y2="444.90" stroke="#6e6e6e" stroke-width="0.6"/>
<line x1="782.30" y1="442.12" x2="784.90" y2="442.12" stroke="#6e6e6e" stroke-width="0.8"/>
<line x1="782.30" y1="444.90" x2="784.90" y2="444.90" stroke="#6e6e6e" stroke-width="0.8"/>
<rect x="768.80" y="355.50" width="4.20" height="4.20" fill="#000"/>
<rect x="768.80" y="369.30" width="4.20" height="4.20" fill="#ff0000"/>
<line x1="54.20" y1="538.50" x2="54.20" y2="631.50" stroke="#8c8c8c" stroke-width="1"/>
<line x1="51.70" y1="631.50" x2="54.20" y2="631.50" stroke="#8c8c8c" stroke-width="1"/>
<line x1="51.70" y1="618.21" x2="54.20" y2="618.21" stroke="#8c8c8c" stroke-width="1"/>
<line x1="51.70" y1="604.93" x2="54.20" y2="604.93" stroke="#8c8c8c" stroke-width="1"/>
<line x1="51.70" y1="591.64" x2="54.20" y2="591.64" stroke="#8c8c8c" stroke-width="1"/>
<line x1="51.70" y1="578.36" x2="54.20" y2="578.36" stroke="#8c8c8c" stroke-width="1"/>
<line x1="51.70" y1="565.07" x2="54.20" y2="565.07" stroke="#8c8c8c" stroke-width="1"/>
<line x1="51.70" y1="551.79" x2="54.20" y2="551.79" stroke="#8c8c8c" stroke-width="1"/>
<line x1="51.70" y1="538.50" x2="54.20" y2="538.50" stroke="#8c8c8c" stroke-width="1"/>
<line x1="51.70" y1="631.50" x2="192.90" y2="631.50" stroke="#858585" stroke-width="1.1"/>
<rect x="66.90" y="619.28" width="11.00" height="12.22" fill="#000"/>
<rect x="77.90" y="625.39" width="12.00" height="6.11" fill="#ff0000"/>
<line x1="72.40" y1="618.48" x2="72.40" y2="620.07" stroke="#6e6e6e" stroke-width="0.6"/>
<line x1="71.10" y1="618.48" x2="73.70" y2="618.48" stroke="#6e6e6e" stroke-width="0.8"/>
<line x1="71.10" y1="620.07" x2="73.70" y2="620.07" stroke="#6e6e6e" stroke-width="0.8"/>
<line x1="83.90" y1="624.86" x2="83.90" y2="625.92" stroke="#6e6e6e" stroke-width="0.6"/>
<line x1="82.60" y1="624.86" x2="85.20" y2="624.86" stroke="#6e6e6e" stroke-width="0.8"/>
<line x1="82.60" y1="625.92" x2="85.20" y2="625.92" stroke="#6e6e6e" stroke-width="0.8"/>
<rect x="116.10" y="606.26" width="11.00" height="25.24" fill="#000"/>
<rect x="127.10" y="620.07" width="12.00" height="11.43" fill="#ff0000"/>
<line x1="121.60" y1="603.07" x2="121.60" y2="609.45" stroke="#6e6e6e" stroke-width="0.6"/>
<line x1="120.30" y1="603.07" x2="122.90" y2="603.07" stroke="#6e6e6e" stroke-width="0.8"/>
<line x1="120.30" y1="609.45" x2="122.90" y2="609.45" stroke="#6e6e6e" stroke-width="0.8"/>
<line x1="133.10" y1="617.42" x2="133.10" y2="622.73" stroke="#6e6e6e" stroke-width="0.6"/>
<line x1="131.80" y1="617.42" x2="134.40" y2="617.42" stroke="#6e6e6e" stroke-width="0.8"/>
<line x1="131.80" y1="622.73" x2="134.40" y2="622.73" stroke="#6e6e6e" stroke-width="0.8"/>
<rect x="164.30" y="577.83" width="11.70" height="53.67" fill="#000"/>
<rect x="176.00" y="565.07" width="11.90" height="66.43" fill="#ff0000"/>
<line x1="170.15" y1="573.57" x2="170.15" y2="582.08" stroke="#6e6e6e" stroke-width="0.6"/>
<line x1="168.85" y1="573.57" x2="171.45" y2="573.57" stroke="#6e6e6e" stroke-width="0.8"/>
<line x1="168.85" y1="582.08" x2="171.45" y2="582.08" stroke="#6e6e6e" stroke-width="0.8"/>
<line x1="181.95" y1="551.79" x2="181.95" y2="578.36" stroke="#6e6e6e" stroke-width="0.6"/>
<line x1="180.65" y1="551.79" x2="183.25" y2="551.79" stroke="#6e6e6e" stroke-width="0.8"/>
<line x1="180.65" y1="578.36" x2="183.25" y2="578.36" stroke="#6e6e6e" stroke-width="0.8"/>
<rect x="168.10" y="525.20" width="4.20" height="4.20" fill="#000"/>
<rect x="168.10" y="537.70" width="4.20" height="4.20" fill="#ff0000"/>
<line x1="247.90" y1="527.30" x2="247.90" y2="630.60" stroke="#8c8c8c" stroke-width="1"/>
<line x1="245.40" y1="630.60" x2="247.90" y2="630.60" stroke="#8c8c8c" stroke-width="1"/>
<line x1="245.40" y1="613.38" x2="247.90" y2="613.38" stroke="#8c8c8c" stroke-width="1"/>
<line x1="245.40" y1="596.17" x2="247.90" y2="596.17" stroke="#8c8c8c" stroke-width="1"/>
<line x1="245.40" y1="578.95" x2="247.90" y2="578.95" stroke="#8c8c8c" stroke-width="1"/>
<line x1="245.40" y1="561.73" x2="247.90" y2="561.73" stroke="#8c8c8c" stroke-width="1"/>
<line x1="245.40" y1="544.52" x2="247.90" y2="544.52" stroke="#8c8c8c" stroke-width="1"/>
<line x1="245.40" y1="527.30" x2="247.90" y2="527.30" stroke="#8c8c8c" stroke-width="1"/>
<line x1="245.40" y1="630.60" x2="396.70" y2="630.60" stroke="#3a3a3a" stroke-width="1.1"/>
<rect x="262.00" y="617.17" width="12.50" height="13.43" fill="#000"/>
<rect x="274.50" y="614.07" width="12.70" height="16.53" fill="#ff0000"/>
<line x1="268.25" y1="616.14" x2="268.25" y2="618.20" stroke="#6e6e6e" stroke-width="0.6"/>
<line x1="266.95" y1="616.14" x2="269.55" y2="616.14" stroke="#6e6e6e" stroke-width="0.8"/>
<line x1="266.95" y1="618.20" x2="269.55" y2="618.20" stroke="#6e6e6e" stroke-width="0.8"/>
<line x1="280.85" y1="608.22" x2="280.85" y2="619.93" stroke="#6e6e6e" stroke-width="0.6"/>
<line x1="279.55" y1="608.22" x2="282.15" y2="608.22" stroke="#6e6e6e" stroke-width="0.8"/>
<line x1="279.55" y1="619.93" x2="282.15" y2="619.93" stroke="#6e6e6e" stroke-width="0.8"/>
<rect x="315.00" y="601.33" width="11.80" height="29.27" fill="#000"/>
<rect x="326.80" y="592.72" width="13.00" height="37.88" fill="#ff0000"/>
<line x1="320.90" y1="599.61" x2="320.90" y2="603.05" stroke="#6e6e6e" stroke-width="0.6"/>
<line x1="319.60" y1="599.61" x2="322.20" y2="599.61" stroke="#6e6e6e" stroke-width="0.8"/>
<line x1="319.60" y1="603.05" x2="322.20" y2="603.05" stroke="#6e6e6e" stroke-width="0.8"/>
<line x1="333.30" y1="582.39" x2="333.30" y2="603.05" stroke="#6e6e6e" stroke-width="0.6"/>
<line x1="332.00" y1="582.39" x2="334.60" y2="582.39" stroke="#6e6e6e" stroke-width="0.8"/>
<line x1="332.00" y1="603.05" x2="334.60" y2="603.05" stroke="#6e6e6e" stroke-width="0.8"/>
<rect x="367.00" y="597.03" width="12.00" height="33.57" fill="#000"/>
<rect x="379.00" y="554.33" width="13.00" height="76.27" fill="#ff0000"/>
<line x1="373.00" y1="596.51" x2="373.00" y2="597.54" stroke="#6e6e6e" stroke-width="0.6"/>
<line x1="371.70" y1="596.51" x2="374.30" y2="596.51" stroke="#6e6e6e" stroke-width="0.8"/>
<line x1="371.70" y1="597.54" x2="374.30" y2="597.54" stroke="#6e6e6e" stroke-width="0.8"/>
<line x1="385.50" y1="552.61" x2="385.50" y2="556.05" stroke="#6e6e6e" stroke-width="0.6"/>
<line x1="384.20" y1="552.61" x2="386.80" y2="552.61" stroke="#6e6e6e" stroke-width="0.8"/>
<line x1="384.20" y1="556.05" x2="386.80" y2="556.05" stroke="#6e6e6e" stroke-width="0.8"/>
<rect x="369.40" y="513.20" width="4.20" height="4.20" fill="#000"/>
<rect x="369.40" y="527.30" width="4.20" height="4.20" fill="#ff0000"/>
<line x1="443.40" y1="518.50" x2="443.40" y2="631.40" stroke="#8c8c8c" stroke-width="1"/>
<line x1="440.90" y1="631.40" x2="443.40" y2="631.40" stroke="#8c8c8c" stroke-width="1"/>
<line x1="440.90" y1="608.82" x2="443.40" y2="608.82" stroke="#8c8c8c" stroke-width="1"/>
<line x1="440.90" y1="586.24" x2="443.40" y2="586.24" stroke="#8c8c8c" stroke-width="1"/>
<line x1="440.90" y1="563.66" x2="443.40" y2="563.66" stroke="#8c8c8c" stroke-width="1"/>
<line x1="440.90" y1="541.08" x2="443.40" y2="541.08" stroke="#8c8c8c" stroke-width="1"/>
<line x1="440.90" y1="518.50" x2="443.40" y2="518.50" stroke="#8c8c8c" stroke-width="1"/>
<line x1="440.90" y1="631.40" x2="595.60" y2="631.40" stroke="#858585" stroke-width="1.1"/>
<rect x="456.20" y="589.63" width="11.90" height="41.77" fill="#000"/>
<rect x="470.90" y="606.00" width="11.90" height="25.40" fill="#ff0000"/>
<line x1="462.15" y1="582.85" x2="462.15" y2="596.40" stroke="#6e6e6e" stroke-width="0.6"/>
<line x1="460.85" y1="582.85" x2="463.45" y2="582.85" stroke="#6e6e6e" stroke-width="0.8"/>
<line x1="460.85" y1="596.40" x2="463.45" y2="596.40" stroke="#6e6e6e" stroke-width="0.8"/>
<line x1="476.85" y1="601.48" x2="476.85" y2="610.51" stroke="#6e6e6e" stroke-width="0.6"/>
<line x1="475.55" y1="601.48" x2="478.15" y2="601.48" stroke="#6e6e6e" stroke-width="0.8"/>
<line x1="475.55" y1="610.51" x2="478.15" y2="610.51" stroke="#6e6e6e" stroke-width="0.8"/>
<rect x="507.90" y="561.97" width="11.70" height="69.43" fill="#000"/>
<rect x="522.40" y="595.27" width="11.90" height="36.13" fill="#ff0000"/>
<line x1="513.75" y1="554.06" x2="513.75" y2="569.87" stroke="#6e6e6e" stroke-width="0.6"/>
<line x1="512.45" y1="554.06" x2="515.05" y2="554.06" stroke="#6e6e6e" stroke-width="0.8"/>
<line x1="512.45" y1="569.87" x2="515.05" y2="569.87" stroke="#6e6e6e" stroke-width="0.8"/>
<line x1="528.35" y1="589.63" x2="528.35" y2="600.92" stroke="#6e6e6e" stroke-width="0.6"/>
<line x1="527.05" y1="589.63" x2="529.65" y2="589.63" stroke="#6e6e6e" stroke-width="0.8"/>
<line x1="527.05" y1="600.92" x2="529.65" y2="600.92" stroke="#6e6e6e" stroke-width="0.8"/>
<rect x="559.40" y="548.98" width="11.60" height="82.42" fill="#000"/>
<rect x="574.00" y="555.76" width="11.80" height="75.64" fill="#ff0000"/>
<line x1="565.20" y1="542.21" x2="565.20" y2="555.76" stroke="#6e6e6e" stroke-width="0.6"/>
<line x1="563.90" y1="542.21" x2="566.50" y2="542.21" stroke="#6e6e6e" stroke-width="0.8"/>
<line x1="563.90" y1="555.76" x2="566.50" y2="555.76" stroke="#6e6e6e" stroke-width="0.8"/>
<line x1="579.90" y1="551.24" x2="579.90" y2="560.27" stroke="#6e6e6e" stroke-width="0.6"/>
<line x1="578.60" y1="551.24" x2="581.20" y2="551.24" stroke="#6e6e6e" stroke-width="0.8"/>
<line x1="578.60" y1="560.27" x2="581.20" y2="560.27" stroke="#6e6e6e" stroke-width="0.8"/>
<rect x="571.30" y="520.80" width="4.20" height="4.20" fill="#000"/>
<rect x="571.30" y="533.70" width="4.20" height="4.20" fill="#ff0000"/>
<line x1="634.70" y1="511.50" x2="634.70" y2="631.20" stroke="#8c8c8c" stroke-width="1"/>
<line x1="632.20" y1="631.20" x2="634.70" y2="631.20" stroke="#8c8c8c" stroke-width="1"/>
<line x1="632.20" y1="607.26" x2="634.70" y2="607.26" stroke="#8c8c8c" stroke-width="1"/>
<line x1="632.20" y1="583.32" x2="634.70" y2="583.32" stroke="#8c8c8c" stroke-width="1"/>
<line x1="632.20" y1="559.38" x2="634.70" y2="559.38" stroke="#8c8c8c" stroke-width="1"/>
<line x1="632.20" y1="535.44" x2="634.70" y2="535.44" stroke="#8c8c8c" stroke-width="1"/>
<line x1="632.20" y1="511.50" x2="634.70" y2="511.50" stroke="#8c8c8c" stroke-width="1"/>
<line x1="632.20" y1="631.20" x2="794.70" y2="631.20" stroke="#858585" stroke-width="1.1"/>
<rect x="648.20" y="580.45" width="12.90" height="50.75" fill="#000"/>
<rect x="664.10" y="606.78" width="12.50" height="24.42" fill="#ff0000"/>
<line x1="654.65" y1="572.31" x2="654.65" y2="588.59" stroke="#6e6e6e" stroke-width="0.6"/>
<line x1="653.35" y1="572.31" x2="655.95" y2="572.31" stroke="#6e6e6e" stroke-width="0.8"/>
<line x1="653.35" y1="588.59" x2="655.95" y2="588.59" stroke="#6e6e6e" stroke-width="0.8"/>
<line x1="670.35" y1="602.47" x2="670.35" y2="611.09" stroke="#6e6e6e" stroke-width="0.6"/>
<line x1="669.05" y1="602.47" x2="671.65" y2="602.47" stroke="#6e6e6e" stroke-width="0.8"/>
<line x1="669.05" y1="611.09" x2="671.65" y2="611.09" stroke="#6e6e6e" stroke-width="0.8"/>
<rect x="703.80" y="544.54" width="12.20" height="86.66" fill="#000"/>
<rect x="719.00" y="588.11" width="12.50" height="43.09" fill="#ff0000"/>
<line x1="709.90" y1="535.44" x2="709.90" y2="553.63" stroke="#6e6e6e" stroke-width="0.6"/>
<line x1="708.60" y1="535.44" x2="711.20" y2="535.44" stroke="#6e6e6e" stroke-width="0.8"/>
<line x1="708.60" y1="553.63" x2="711.20" y2="553.63" stroke="#6e6e6e" stroke-width="0.8"/>
<line x1="725.25" y1="582.36" x2="725.25" y2="593.85" stroke="#6e6e6e" stroke-width="0.6"/>
<line x1="723.95" y1="582.36" x2="726.55" y2="582.36" stroke="#6e6e6e" stroke-width="0.8"/>
<line x1="723.95" y1="593.85" x2="726.55" y2="593.85" stroke="#6e6e6e" stroke-width="0.8"/>
<rect x="758.30" y="559.38" width="12.00" height="71.82" fill="#000"/>
<rect x="774.00" y="592.42" width="12.00" height="38.78" fill="#ff0000"/>
<line x1="764.30" y1="553.16" x2="764.30" y2="565.60" stroke="#6e6e6e" stroke-width="0.6"/>
<line x1="763.00" y1="553.16" x2="765.60" y2="553.16" stroke="#6e6e6e" stroke-width="0.8"/>
<line x1="763.00" y1="565.60" x2="765.60" y2="565.60" stroke="#6e6e6e" stroke-width="0.8"/>
<line x1="780.00" y1="590.50" x2="780.00" y2="594.33" stroke="#6e6e6e" stroke-width="0.6"/>
<line x1="778.70" y1="590.50" x2="781.30" y2="590.50" stroke="#6e6e6e" stroke-width="0.8"/>
<line x1="778.70" y1="594.33" x2="781.30" y2="594.33" stroke="#6e6e6e" stroke-width="0.8"/>
<rect x="768.30" y="521.20" width="4.20" height="4.20" fill="#000"/>
<rect x="768.30" y="534.90" width="4.20" height="4.20" fill="#ff0000"/>
<line x1="31.50" y1="40.60" x2="31.50" y2="124.60" stroke="#8c8c8c" stroke-width="1"/>
<line x1="29.00" y1="124.60" x2="31.50" y2="124.60" stroke="#8c8c8c" stroke-width="1"/>
<line x1="29.00" y1="107.80" x2="31.50" y2="107.80" stroke="#8c8c8c" stroke-width="1"/>
<line x1="29.00" y1="91.00" x2="31.50" y2="91.00" stroke="#8c8c8c" stroke-width="1"/>
<line x1="29.00" y1="74.20" x2="31.50" y2="74.20" stroke="#8c8c8c" stroke-width="1"/>
<line x1="29.00" y1="57.40" x2="31.50" y2="57.40" stroke="#8c8c8c" stroke-width="1"/>
<line x1="29.00" y1="40.60" x2="31.50" y2="40.60" stroke="#8c8c8c" stroke-width="1"/>
<line x1="31.50" y1="124.60" x2="186.50" y2="124.60" stroke="#8c8c8c" stroke-width="1"/>
<line x1="31.50" y1="124.60" x2="31.50" y2="127.10" stroke="#8c8c8c" stroke-width="1"/>
<line x1="70.25" y1="124.60" x2="70.25" y2="127.10" stroke="#8c8c8c" stroke-width="1"/>
<line x1="109.00" y1="124.60" x2="109.00" y2="127.10" stroke="#8c8c8c" stroke-width="1"/>
<line x1="147.75" y1="124.60" x2="147.75" y2="127.10" stroke="#8c8c8c" stroke-width="1"/>
<line x1="186.50" y1="124.60" x2="186.50" y2="127.10" stroke="#8c8c8c" stroke-width="1"/>
<polyline points="41.19,67.06 50.88,63.28 78.00,61.60 124.50,58.66 167.12,53.62" fill="none" stroke="#ff1f1f" stroke-width="1"/>
<circle cx="41.19" cy="67.06" r="1.6" fill="#ff1f1f"/>
<circle cx="50.88" cy="63.28" r="1.6" fill="#ff1f1f"/>
<circle cx="78.00" cy="61.60" r="1.6" fill="#ff1f1f"/>
<circle cx="124.50" cy="58.66" r="1.6" fill="#ff1f1f"/>
<circle cx="167.12" cy="53.62" r="1.6" fill="#ff1f1f"/>
<polyline points="41.19,105.28 50.88,94.78 78.00,76.30 124.50,62.86 167.12,56.56" fill="none" stroke="#f0843c" stroke-width="1"/>
<circle cx="41.19" cy="105.28" r="1.6" fill="#f0843c"/>
<circle cx="50.88" cy="94.78" r="1.6" fill="#f0843c"/>
<circle cx="78.00" cy="76.30" r="1.6" fill="#f0843c"/>
<circle cx="124.50" cy="62.86" r="1.6" fill="#f0843c"/>
<circle cx="167.12" cy="56.56" r="1.6" fill="#f0843c"/>
<polyline points="41.19,109.48 50.88,104.02 78.00,93.10 124.50,85.12 167.12,73.78" fill="none" stroke="#1f4fff" stroke-width="1"/>
<circle cx="41.19" cy="109.48" r="1.6" fill="#1f4fff"/>
<circle cx="50.88" cy="104.02" r="1.6" fill="#1f4fff"/>
<circle cx="78.00" cy="93.10" r="1.6" fill="#1f4fff"/>
<circle cx="124.50" cy="85.12" r="1.6" fill="#1f4fff"/>
<circle cx="167.12" cy="73.78" r="1.6" fill="#1f4fff"/>
<line x1="163.20" y1="91.40" x2="173.60" y2="91.40" stroke="#ff1f1f" stroke-width="1"/>
<circle cx="168.3" cy="91.4" r="1.6" fill="#ff1f1f"/>
<line x1="163.20" y1="100.30" x2="173.60" y2="100.30" stroke="#f0843c" stroke-width="1"/>
<circle cx="168.3" cy="100.3" r="1.6" fill="#f0843c"/>
<line x1="163.20" y1="109.20" x2="173.60" y2="109.20" stroke="#1f4fff" stroke-width="1"/>
<circle cx="168.3" cy="109.2" r="1.6" fill="#1f4fff"/>
<g filter="url(#gs)" stroke="#000" stroke-width="0.2" text-rendering="geometricPrecision">
<text transform="translate(244.30,140.82) scale(0.9,1)" font-size="9" text-anchor="end" fill="#000">0</text>
<text transform="translate(244.30,128.97) scale(0.9,1)" font-size="9" text-anchor="end" fill="#000">0.0005</text>
<text transform="translate(244.30,117.12) scale(0.9,1)" font-size="9" text-anchor="end" fill="#000">0.001</text>
<text transform="translate(244.30,105.27) scale(0.9,1)" font-size="9" text-anchor="end" fill="#000">0.0015</text>
<text transform="translate(244.30,93.42) scale(0.9,1)" font-size="9" text-anchor="end" fill="#000">0.002</text>
<text transform="translate(244.30,81.57) scale(0.9,1)" font-size="9" text-anchor="end" fill="#000">0.0025</text>
<text transform="translate(244.30,69.72) scale(0.9,1)" font-size="9" text-anchor="end" fill="#000">0.003</text>
<text transform="translate(244.30,57.87) scale(0.9,1)" font-size="9" text-anchor="end" fill="#000">0.0035</text>
<text transform="translate(244.30,46.02) scale(0.9,1)" font-size="9" text-anchor="end" fill="#000">0.004</text>
<text transform="translate(277.35,150.42) scale(0.9,1)" font-size="9" text-anchor="middle" fill="#000">PSI</text>
<text transform="translate(328.50,150.42) scale(0.9,1)" font-size="9" text-anchor="middle" fill="#000">PSII</text>
<text transform="translate(379.55,150.42) scale(0.9,1)" font-size="9" text-anchor="middle" fill="#000">WL</text>
<text transform="translate(271.00,115.07) scale(0.9,1)" font-size="9.5" text-anchor="middle" fill="#000">a</text>
<text transform="translate(283.30,119.47) scale(0.9,1)" font-size="9.5" text-anchor="middle" fill="#000">c</text>
<text transform="translate(283.30,128.27) scale(0.9,1)" font-size="9.5" text-anchor="middle" fill="#000">b</text>
<text transform="translate(334.70,113.97) scale(0.9,1)" font-size="9.5" text-anchor="middle" fill="#000">d</text>
<text transform="translate(306.40,35.20) scale(0.9,1)" font-size="11.2" text-anchor="middle" font-style="italic" fill="#000">psaA</text>
<text transform="translate(368.70,32.77) scale(0.9,1)" font-size="9" text-anchor="start" fill="#000">WT</text>
<text transform="translate(368.90,44.52) scale(0.9,1)" font-size="9" text-anchor="start" font-style="italic" fill="#000">phyB</text>
<text transform="translate(211.20,12.89) scale(0.9,1)" font-size="10.3" text-anchor="start" fill="#000">B</text>
<text transform="translate(210.80,82.20) rotate(-90) scale(1,0.9)" font-size="8.3" text-anchor="middle" fill="#000">Relative expression</text>
<text transform="translate(419.30,140.32) scale(0.9,1)" font-size="9" text-anchor="end" fill="#000">0</text>
<text transform="translate(419.30,120.22) scale(0.9,1)" font-size="9" text-anchor="end" fill="#000">0.1</text>
<text transform="translate(419.30,100.12) scale(0.9,1)" font-size="9" text-anchor="end" fill="#000">0.2</text>
<text transform="translate(419.30,80.02) scale(0.9,1)" font-size="9" text-anchor="end" fill="#000">0.3</text>
<text transform="translate(419.30,59.92) scale(0.9,1)" font-size="9" text-anchor="end" fill="#000">0.4</text>
<text transform="translate(419.30,39.82) scale(0.9,1)" font-size="9" text-anchor="end" fill="#000">0.5</text>
<text transform="translate(455.80,150.42) scale(0.9,1)" font-size="9" text-anchor="middle" fill="#000">PSI</text>
<text transform="translate(514.00,150.42) scale(0.9,1)" font-size="9" text-anchor="middle" fill="#000">PSII</text>
<text transform="translate(571.90,150.42) scale(0.9,1)" font-size="9" text-anchor="middle" fill="#000">WL</text>
<text transform="translate(449.00,91.47) scale(0.9,1)" font-size="9.5" text-anchor="middle" fill="#000">a</text>
<text transform="translate(462.80,97.97) scale(0.9,1)" font-size="9.5" text-anchor="middle" fill="#000">c</text>
<text transform="translate(462.80,106.77) scale(0.9,1)" font-size="9.5" text-anchor="middle" fill="#000">b</text>
<text transform="translate(495.80,28.30) scale(0.9,1)" font-size="11.2" text-anchor="middle" font-style="italic" fill="#000">psbA</text>
<text transform="translate(575.30,22.92) scale(0.9,1)" font-size="9" text-anchor="start" fill="#000">WT</text>
<text transform="translate(575.50,35.32) scale(0.9,1)" font-size="9" text-anchor="start" font-style="italic" fill="#000">phyB</text>
<text transform="translate(409.90,12.89) scale(0.9,1)" font-size="10.3" text-anchor="start" fill="#000">C</text>
<text transform="translate(627.90,140.12) scale(0.9,1)" font-size="9" text-anchor="end" fill="#000">0</text>
<text transform="translate(627.90,123.41) scale(0.9,1)" font-size="9" text-anchor="end" fill="#000">0.002</text>
<text transform="translate(627.90,106.69) scale(0.9,1)" font-size="9" text-anchor="end" fill="#000">0.004</text>
<text transform="translate(627.90,89.97) scale(0.9,1)" font-size="9" text-anchor="end" fill="#000">0.006</text>
<text transform="translate(627.90,73.26) scale(0.9,1)" font-size="9" text-anchor="end" fill="#000">0.008</text>
<text transform="translate(627.90,56.54) scale(0.9,1)" font-size="9" text-anchor="end" fill="#000">0.01</text>
<text transform="translate(627.90,39.82) scale(0.9,1)" font-size="9" text-anchor="end" fill="#000">0.012</text>
<text transform="translate(663.65,150.42) scale(0.9,1)" font-size="9" text-anchor="middle" fill="#000">PSI</text>
<text transform="translate(719.40,150.42) scale(0.9,1)" font-size="9" text-anchor="middle" fill="#000">PSII</text>
<text transform="translate(774.85,150.42) scale(0.9,1)" font-size="9" text-anchor="middle" fill="#000">WL</text>
<text transform="translate(656.80,96.67) scale(0.9,1)" font-size="9.5" text-anchor="middle" fill="#000">a</text>
<text transform="translate(670.00,107.17) scale(0.9,1)" font-size="9.5" text-anchor="middle" fill="#000">c</text>
<text transform="translate(670.00,116.87) scale(0.9,1)" font-size="9.5" text-anchor="middle" fill="#000">b</text>
<text transform="translate(725.40,101.97) scale(0.9,1)" font-size="9.5" text-anchor="middle" fill="#000">d</text>
<text transform="translate(698.40,28.60) scale(0.9,1)" font-size="11.2" text-anchor="middle" font-style="italic" fill="#000">psbB</text>
<text transform="translate(773.60,27.72) scale(0.9,1)" font-size="9" text-anchor="start" fill="#000">WT</text>
<text transform="translate(773.80,39.72) scale(0.9,1)" font-size="9" text-anchor="start" font-style="italic" fill="#000">phyB</text>
<text transform="translate(609.60,12.99) scale(0.9,1)" font-size="10.3" text-anchor="start" fill="#000">D</text>
<text transform="translate(41.30,304.92) scale(0.9,1)" font-size="9" text-anchor="end" fill="#000">0.0000</text>
<text transform="translate(41.30,281.65) scale(0.9,1)" font-size="9" text-anchor="end" fill="#000">0.0001</text>
<text transform="translate(41.30,258.37) scale(0.9,1)" font-size="9" text-anchor="end" fill="#000">0.0002</text>
<text transform="translate(41.30,235.10) scale(0.9,1)" font-size="9" text-anchor="end" fill="#000">0.0003</text>
<text transform="translate(41.30,211.82) scale(0.9,1)" font-size="9" text-anchor="end" fill="#000">0.0004</text>
<text transform="translate(74.10,314.42) scale(0.9,1)" font-size="9" text-anchor="middle" fill="#000">PSI</text>
<text transform="translate(124.65,314.42) scale(0.9,1)" font-size="9" text-anchor="middle" fill="#000">PSII</text>
<text transform="translate(175.00,314.42) scale(0.9,1)" font-size="9" text-anchor="middle" fill="#000">WL</text>
<text transform="translate(67.80,282.07) scale(0.9,1)" font-size="9.5" text-anchor="middle" fill="#000">a</text>
<text transform="translate(103.60,201.60) scale(0.9,1)" font-size="11.2" text-anchor="middle" font-style="italic" fill="#000">psbD</text>
<text transform="translate(174.20,200.92) scale(0.9,1)" font-size="9" text-anchor="start" fill="#000">WT</text>
<text transform="translate(174.40,213.52) scale(0.9,1)" font-size="9" text-anchor="start" font-style="italic" fill="#000">phyB</text>
<text transform="translate(4.30,179.59) scale(0.9,1)" font-size="10.3" text-anchor="start" fill="#000">E</text>
<text transform="translate(9.20,247.60) rotate(-90) scale(1,0.9)" font-size="8.3" text-anchor="middle" fill="#000">Relative expression</text>
<text transform="translate(233.90,303.72) scale(0.9,1)" font-size="9" text-anchor="end" fill="#000">0</text>
<text transform="translate(233.90,278.42) scale(0.9,1)" font-size="9" text-anchor="end" fill="#000">0.0005</text>
<text transform="translate(233.90,253.12) scale(0.9,1)" font-size="9" text-anchor="end" fill="#000">0.001</text>
<text transform="translate(233.90,227.82) scale(0.9,1)" font-size="9" text-anchor="end" fill="#000">0.0015</text>
<text transform="translate(233.90,202.52) scale(0.9,1)" font-size="9" text-anchor="end" fill="#000">0.002</text>
<text transform="translate(269.10,314.42) scale(0.9,1)" font-size="9" text-anchor="middle" fill="#000">PSI</text>
<text transform="translate(323.80,314.42) scale(0.9,1)" font-size="9" text-anchor="middle" fill="#000">PSII</text>
<text transform="translate(378.00,314.42) scale(0.9,1)" font-size="9" text-anchor="middle" fill="#000">WL</text>
<text transform="translate(262.30,276.27) scale(0.9,1)" font-size="9.5" text-anchor="middle" fill="#000">a</text>
<text transform="translate(276.00,275.47) scale(0.9,1)" font-size="9.5" text-anchor="middle" fill="#000">c</text>
<text transform="translate(276.00,285.07) scale(0.9,1)" font-size="9.5" text-anchor="middle" fill="#000">b</text>
<text transform="translate(330.00,269.97) scale(0.9,1)" font-size="9.5" text-anchor="middle" fill="#000">d</text>
<text transform="translate(300.20,190.80) scale(0.9,1)" font-size="11.2" text-anchor="middle" font-style="italic" fill="#000">ndhB</text>
<text transform="translate(376.30,190.22) scale(0.9,1)" font-size="9" text-anchor="start" fill="#000">WT</text>
<text transform="translate(376.50,203.92) scale(0.9,1)" font-size="9" text-anchor="start" font-style="italic" fill="#000">phyB</text>
<text transform="translate(210.90,179.69) scale(0.9,1)" font-size="10.3" text-anchor="start" fill="#000">F</text>
<text transform="translate(428.60,303.12) scale(0.9,1)" font-size="9" text-anchor="end" fill="#000">0</text>
<text transform="translate(428.60,288.82) scale(0.9,1)" font-size="9" text-anchor="end" fill="#000">0.002</text>
<text transform="translate(428.60,274.52) scale(0.9,1)" font-size="9" text-anchor="end" fill="#000">0.004</text>
<text transform="translate(428.60,260.22) scale(0.9,1)" font-size="9" text-anchor="end" fill="#000">0.006</text>
<text transform="translate(428.60,245.92) scale(0.9,1)" font-size="9" text-anchor="end" fill="#000">0.008</text>
<text transform="translate(428.60,231.62) scale(0.9,1)" font-size="9" text-anchor="end" fill="#000">0.01</text>
<text transform="translate(428.60,217.32) scale(0.9,1)" font-size="9" text-anchor="end" fill="#000">0.012</text>
<text transform="translate(428.60,203.02) scale(0.9,1)" font-size="9" text-anchor="end" fill="#000">0.014</text>
<text transform="translate(464.60,314.42) scale(0.9,1)" font-size="9" text-anchor="middle" fill="#000">PSI</text>
<text transform="translate(520.50,314.42) scale(0.9,1)" font-size="9" text-anchor="middle" fill="#000">PSII</text>
<text transform="translate(576.40,314.42) scale(0.9,1)" font-size="9" text-anchor="middle" fill="#000">WL</text>
<text transform="translate(457.80,266.77) scale(0.9,1)" font-size="9.5" text-anchor="middle" fill="#000">a</text>
<text transform="translate(471.10,274.77) scale(0.9,1)" font-size="9.5" text-anchor="middle" fill="#000">b</text>
<text transform="translate(526.40,257.97) scale(0.9,1)" font-size="9.5" text-anchor="middle" fill="#000">d</text>
<text transform="translate(584.00,225.27) scale(0.9,1)" font-size="9.5" text-anchor="middle" fill="#000">e</text>
<text transform="translate(499.40,191.50) scale(0.9,1)" font-size="11.2" text-anchor="middle" font-style="italic" fill="#000">petB</text>
<text transform="translate(575.40,190.82) scale(0.9,1)" font-size="9" text-anchor="start" fill="#000">WT</text>
<text transform="translate(575.60,204.02) scale(0.9,1)" font-size="9" text-anchor="start" font-style="italic" fill="#000">phyB</text>
<text transform="translate(410.00,179.59) scale(0.9,1)" font-size="10.3" text-anchor="start" fill="#000">G</text>
<text transform="translate(627.90,303.12) scale(0.9,1)" font-size="9" text-anchor="end" fill="#000">0</text>
<text transform="translate(627.90,290.61) scale(0.9,1)" font-size="9" text-anchor="end" fill="#000">0.002</text>
<text transform="translate(627.90,278.10) scale(0.9,1)" font-size="9" text-anchor="end" fill="#000">0.004</text>
<text transform="translate(627.90,265.58) scale(0.9,1)" font-size="9" text-anchor="end" fill="#000">0.006</text>
<text transform="translate(627.90,253.07) scale(0.9,1)" font-size="9" text-anchor="end" fill="#000">0.008</text>
<text transform="translate(627.90,240.56) scale(0.9,1)" font-size="9" text-anchor="end" fill="#000">0.01</text>
<text transform="translate(627.90,228.05) scale(0.9,1)" font-size="9" text-anchor="end" fill="#000">0.012</text>
<text transform="translate(627.90,215.53) scale(0.9,1)" font-size="9" text-anchor="end" fill="#000">0.014</text>
<text transform="translate(627.90,203.02) scale(0.9,1)" font-size="9" text-anchor="end" fill="#000">0.016</text>
<text transform="translate(663.70,314.42) scale(0.9,1)" font-size="9" text-anchor="middle" fill="#000">PSI</text>
<text transform="translate(719.40,314.42) scale(0.9,1)" font-size="9" text-anchor="middle" fill="#000">PSII</text>
<text transform="translate(775.25,314.42) scale(0.9,1)" font-size="9" text-anchor="middle" fill="#000">WL</text>
<text transform="translate(656.80,279.97) scale(0.9,1)" font-size="9.5" text-anchor="middle" fill="#000">a</text>
<text transform="translate(670.10,275.47) scale(0.9,1)" font-size="9.5" text-anchor="middle" fill="#000">c</text>
<text transform="translate(670.10,284.97) scale(0.9,1)" font-size="9.5" text-anchor="middle" fill="#000">b</text>
<text transform="translate(698.70,191.80) scale(0.9,1)" font-size="11.2" text-anchor="middle" font-style="italic" fill="#000">atpB</text>
<text transform="translate(774.30,191.32) scale(0.9,1)" font-size="9" text-anchor="start" fill="#000">WT</text>
<text transform="translate(774.50,204.82) scale(0.9,1)" font-size="9" text-anchor="start" font-style="italic" fill="#000">phyB</text>
<text transform="translate(609.40,179.69) scale(0.9,1)" font-size="10.3" text-anchor="start" fill="#000">H</text>
<text transform="translate(45.60,469.22) scale(0.9,1)" font-size="9" text-anchor="end" fill="#000">0</text>
<text transform="translate(45.60,445.90) scale(0.9,1)" font-size="9" text-anchor="end" fill="#000">0.000005</text>
<text transform="translate(45.60,422.57) scale(0.9,1)" font-size="9" text-anchor="end" fill="#000">0.00001</text>
<text transform="translate(45.60,399.25) scale(0.9,1)" font-size="9" text-anchor="end" fill="#000">0.000015</text>
<text transform="translate(45.60,375.92) scale(0.9,1)" font-size="9" text-anchor="end" fill="#000">0.00002</text>
<text transform="translate(77.65,477.72) scale(0.9,1)" font-size="9" text-anchor="middle" fill="#000">PSI</text>
<text transform="translate(127.05,477.72) scale(0.9,1)" font-size="9" text-anchor="middle" fill="#000">PSII</text>
<text transform="translate(176.00,477.72) scale(0.9,1)" font-size="9" text-anchor="middle" fill="#000">WL</text>
<text transform="translate(71.60,435.07) scale(0.9,1)" font-size="9.5" text-anchor="middle" fill="#000">a</text>
<text transform="translate(84.20,451.07) scale(0.9,1)" font-size="9.5" text-anchor="middle" fill="#000">c</text>
<text transform="translate(132.40,450.87) scale(0.9,1)" font-size="9.5" text-anchor="middle" fill="#000">d</text>
<text transform="translate(182.20,431.27) scale(0.9,1)" font-size="9.5" text-anchor="middle" fill="#000">e</text>
<text transform="translate(102.60,364.80) scale(0.9,1)" font-size="11.2" text-anchor="middle" font-style="italic" fill="#000">SIG1</text>
<text transform="translate(173.60,364.72) scale(0.9,1)" font-size="9" text-anchor="start" fill="#000">WT</text>
<text transform="translate(173.80,377.12) scale(0.9,1)" font-size="9" text-anchor="start" font-style="italic" fill="#000">phyB</text>
<text transform="translate(4.40,341.19) scale(0.9,1)" font-size="10.3" text-anchor="start" fill="#000">I</text>
<text transform="translate(8.50,411.40) rotate(-90) scale(1,0.9)" font-size="8.3" text-anchor="middle" fill="#000">Relative expression</text>
<text transform="translate(240.90,468.72) scale(0.9,1)" font-size="9" text-anchor="end" fill="#000">0</text>
<text transform="translate(240.90,447.92) scale(0.9,1)" font-size="9" text-anchor="end" fill="#000">0.00001</text>
<text transform="translate(240.90,427.12) scale(0.9,1)" font-size="9" text-anchor="end" fill="#000">0.00002</text>
<text transform="translate(240.90,406.32) scale(0.9,1)" font-size="9" text-anchor="end" fill="#000">0.00003</text>
<text transform="translate(240.90,385.52) scale(0.9,1)" font-size="9" text-anchor="end" fill="#000">0.00004</text>
<text transform="translate(240.90,364.72) scale(0.9,1)" font-size="9" text-anchor="end" fill="#000">0.00005</text>
<text transform="translate(275.25,477.72) scale(0.9,1)" font-size="9" text-anchor="middle" fill="#000">PSI</text>
<text transform="translate(327.40,477.72) scale(0.9,1)" font-size="9" text-anchor="middle" fill="#000">PSII</text>
<text transform="translate(379.60,477.72) scale(0.9,1)" font-size="9" text-anchor="middle" fill="#000">WL</text>
<text transform="translate(268.60,444.87) scale(0.9,1)" font-size="9.5" text-anchor="middle" fill="#000">a</text>
<text transform="translate(281.70,450.37) scale(0.9,1)" font-size="9.5" text-anchor="middle" fill="#000">c</text>
<text transform="translate(333.20,445.27) scale(0.9,1)" font-size="9.5" text-anchor="middle" fill="#000">d</text>
<text transform="translate(298.10,352.80) scale(0.9,1)" font-size="11.2" text-anchor="middle" font-style="italic" fill="#000">SIG2</text>
<text transform="translate(375.60,352.62) scale(0.9,1)" font-size="9" text-anchor="start" fill="#000">WT</text>
<text transform="translate(375.80,366.42) scale(0.9,1)" font-size="9" text-anchor="start" font-style="italic" fill="#000">phyB</text>
<text transform="translate(210.50,341.29) scale(0.9,1)" font-size="10.3" text-anchor="start" fill="#000">J</text>
<text transform="translate(448.10,468.92) scale(0.9,1)" font-size="9" text-anchor="end" fill="#000">0</text>
<text transform="translate(448.10,444.37) scale(0.9,1)" font-size="9" text-anchor="end" fill="#000">0.0000005</text>
<text transform="translate(448.10,419.82) scale(0.9,1)" font-size="9" text-anchor="end" fill="#000">0.000001</text>
<text transform="translate(448.10,395.27) scale(0.9,1)" font-size="9" text-anchor="end" fill="#000">0.0000015</text>
<text transform="translate(448.10,370.72) scale(0.9,1)" font-size="9" text-anchor="end" fill="#000">0.000002</text>
<text transform="translate(480.95,477.72) scale(0.9,1)" font-size="9" text-anchor="middle" fill="#000">PSI</text>
<text transform="translate(530.70,477.72) scale(0.9,1)" font-size="9" text-anchor="middle" fill="#000">PSII</text>
<text transform="translate(580.10,477.72) scale(0.9,1)" font-size="9" text-anchor="middle" fill="#000">WL</text>
<text transform="translate(486.70,445.67) scale(0.9,1)" font-size="9.5" text-anchor="middle" fill="#000">c</text>
<text transform="translate(536.50,437.67) scale(0.9,1)" font-size="9.5" text-anchor="middle" fill="#000">d</text>
<text transform="translate(502.90,359.80) scale(0.9,1)" font-size="11.2" text-anchor="middle" font-style="italic" fill="#000">SIG3</text>
<text transform="translate(576.50,359.22) scale(0.9,1)" font-size="9" text-anchor="start" fill="#000">WT</text>
<text transform="translate(576.70,372.82) scale(0.9,1)" font-size="9" text-anchor="start" font-style="italic" fill="#000">phyB</text>
<text transform="translate(410.10,341.09) scale(0.9,1)" font-size="10.3" text-anchor="start" fill="#000">K</text>
<text transform="translate(640.10,469.62) scale(0.9,1)" font-size="9" text-anchor="end" fill="#000">0</text>
<text transform="translate(640.10,451.04) scale(0.9,1)" font-size="9" text-anchor="end" fill="#000">0.000002</text>
<text transform="translate(640.10,432.46) scale(0.9,1)" font-size="9" text-anchor="end" fill="#000">0.000004</text>
<text transform="translate(640.10,413.88) scale(0.9,1)" font-size="9" text-anchor="end" fill="#000">0.000006</text>
<text transform="translate(640.10,395.30) scale(0.9,1)" font-size="9" text-anchor="end" fill="#000">0.000008</text>
<text transform="translate(640.10,376.72) scale(0.9,1)" font-size="9" text-anchor="end" fill="#000">0.00001</text>
<text transform="translate(674.80,477.72) scale(0.9,1)" font-size="9" text-anchor="middle" fill="#000">PSI</text>
<text transform="translate(726.25,477.72) scale(0.9,1)" font-size="9" text-anchor="middle" fill="#000">PSII</text>
<text transform="translate(777.40,477.72) scale(0.9,1)" font-size="9" text-anchor="middle" fill="#000">WL</text>
<text transform="translate(680.90,455.97) scale(0.9,1)" font-size="9.5" text-anchor="middle" fill="#000">c</text>
<text transform="translate(731.70,445.27) scale(0.9,1)" font-size="9.5" text-anchor="middle" fill="#000">d</text>
<text transform="translate(783.20,441.17) scale(0.9,1)" font-size="9.5" text-anchor="middle" fill="#000">e</text>
<text transform="translate(701.40,360.80) scale(0.9,1)" font-size="11.2" text-anchor="middle" font-style="italic" fill="#000">SIG4</text>
<text transform="translate(775.00,360.02) scale(0.9,1)" font-size="9" text-anchor="start" fill="#000">WT</text>
<text transform="translate(775.20,373.82) scale(0.9,1)" font-size="9" text-anchor="start" font-style="italic" fill="#000">phyB</text>
<text transform="translate(609.50,341.29) scale(0.9,1)" font-size="10.3" text-anchor="start" fill="#000">L</text>
<text transform="translate(46.60,633.92) scale(0.9,1)" font-size="9" text-anchor="end" fill="#000">0</text>
<text transform="translate(46.60,620.64) scale(0.9,1)" font-size="9" text-anchor="end" fill="#000">0.000005</text>
<text transform="translate(46.60,607.35) scale(0.9,1)" font-size="9" text-anchor="end" fill="#000">0.00001</text>
<text transform="translate(46.60,594.06) scale(0.9,1)" font-size="9" text-anchor="end" fill="#000">0.000015</text>
<text transform="translate(46.60,580.78) scale(0.9,1)" font-size="9" text-anchor="end" fill="#000">0.00002</text>
<text transform="translate(46.60,567.49) scale(0.9,1)" font-size="9" text-anchor="end" fill="#000">0.000025</text>
<text transform="translate(46.60,554.21) scale(0.9,1)" font-size="9" text-anchor="end" fill="#000">0.00003</text>
<text transform="translate(46.60,540.92) scale(0.9,1)" font-size="9" text-anchor="end" fill="#000">0.000035</text>
<text transform="translate(78.40,644.42) scale(0.9,1)" font-size="9" text-anchor="middle" fill="#000">PSI</text>
<text transform="translate(127.60,644.42) scale(0.9,1)" font-size="9" text-anchor="middle" fill="#000">PSII</text>
<text transform="translate(176.10,644.42) scale(0.9,1)" font-size="9" text-anchor="middle" fill="#000">WL</text>
<text transform="translate(72.50,614.87) scale(0.9,1)" font-size="9.5" text-anchor="middle" fill="#000">a</text>
<text transform="translate(83.50,622.17) scale(0.9,1)" font-size="9.5" text-anchor="middle" fill="#000">c</text>
<text transform="translate(132.90,615.07) scale(0.9,1)" font-size="9.5" text-anchor="middle" fill="#000">d</text>
<text transform="translate(104.00,529.80) scale(0.9,1)" font-size="11.2" text-anchor="middle" font-style="italic" fill="#000">SIG5</text>
<text transform="translate(174.30,529.72) scale(0.9,1)" font-size="9" text-anchor="start" fill="#000">WT</text>
<text transform="translate(174.50,542.22) scale(0.9,1)" font-size="9" text-anchor="start" font-style="italic" fill="#000">phyB</text>
<text transform="translate(4.20,504.89) scale(0.9,1)" font-size="10.3" text-anchor="start" fill="#000">M</text>
<text transform="translate(9.20,576.80) rotate(-90) scale(1,0.9)" font-size="8.3" text-anchor="middle" fill="#000">Relative expression</text>
<text transform="translate(240.10,633.02) scale(0.9,1)" font-size="9" text-anchor="end" fill="#000">0</text>
<text transform="translate(240.10,615.81) scale(0.9,1)" font-size="9" text-anchor="end" fill="#000">0.00001</text>
<text transform="translate(240.10,598.59) scale(0.9,1)" font-size="9" text-anchor="end" fill="#000">0.00002</text>
<text transform="translate(240.10,581.37) scale(0.9,1)" font-size="9" text-anchor="end" fill="#000">0.00003</text>
<text transform="translate(240.10,564.16) scale(0.9,1)" font-size="9" text-anchor="end" fill="#000">0.00004</text>
<text transform="translate(240.10,546.94) scale(0.9,1)" font-size="9" text-anchor="end" fill="#000">0.00005</text>
<text transform="translate(240.10,529.72) scale(0.9,1)" font-size="9" text-anchor="end" fill="#000">0.00006</text>
<text transform="translate(274.60,644.42) scale(0.9,1)" font-size="9" text-anchor="middle" fill="#000">PSI</text>
<text transform="translate(327.40,644.42) scale(0.9,1)" font-size="9" text-anchor="middle" fill="#000">PSII</text>
<text transform="translate(379.50,644.42) scale(0.9,1)" font-size="9" text-anchor="middle" fill="#000">WL</text>
<text transform="translate(268.80,613.57) scale(0.9,1)" font-size="9.5" text-anchor="middle" fill="#000">a</text>
<text transform="translate(385.70,548.77) scale(0.9,1)" font-size="9.5" text-anchor="middle" fill="#000">e</text>
<text transform="translate(298.90,518.10) scale(0.9,1)" font-size="11.2" text-anchor="middle" font-style="italic" fill="#000">SIG6</text>
<text transform="translate(375.60,517.72) scale(0.9,1)" font-size="9" text-anchor="start" fill="#000">WT</text>
<text transform="translate(375.80,531.82) scale(0.9,1)" font-size="9" text-anchor="start" font-style="italic" fill="#000">phyB</text>
<text transform="translate(211.20,504.89) scale(0.9,1)" font-size="10.3" text-anchor="start" fill="#000">N</text>
<text transform="translate(436.40,633.82) scale(0.9,1)" font-size="9" text-anchor="end" fill="#000">0.000</text>
<text transform="translate(436.40,611.24) scale(0.9,1)" font-size="9" text-anchor="end" fill="#000">0.002</text>
<text transform="translate(436.40,588.66) scale(0.9,1)" font-size="9" text-anchor="end" fill="#000">0.004</text>
<text transform="translate(436.40,566.08) scale(0.9,1)" font-size="9" text-anchor="end" fill="#000">0.006</text>
<text transform="translate(436.40,543.50) scale(0.9,1)" font-size="9" text-anchor="end" fill="#000">0.008</text>
<text transform="translate(436.40,520.92) scale(0.9,1)" font-size="9" text-anchor="end" fill="#000">0.010</text>
<text transform="translate(469.50,644.42) scale(0.9,1)" font-size="9" text-anchor="middle" fill="#000">PSI</text>
<text transform="translate(521.10,644.42) scale(0.9,1)" font-size="9" text-anchor="middle" fill="#000">PSII</text>
<text transform="translate(572.60,644.42) scale(0.9,1)" font-size="9" text-anchor="middle" fill="#000">WL</text>
<text transform="translate(462.40,580.17) scale(0.9,1)" font-size="9.5" text-anchor="middle" fill="#000">a</text>
<text transform="translate(520.00,524.50) scale(0.9,1)" font-size="11.2" text-anchor="middle" font-style="italic" fill="#000">psaA/psbA</text>
<text transform="translate(577.50,525.32) scale(0.9,1)" font-size="9" text-anchor="start" fill="#000">WT</text>
<text transform="translate(577.70,538.22) scale(0.9,1)" font-size="9" text-anchor="start" font-style="italic" fill="#000">phyB</text>
<text transform="translate(410.00,504.89) scale(0.9,1)" font-size="10.3" text-anchor="start" fill="#000">O</text>
<text transform="translate(413.30,574.40) rotate(-90) scale(1,0.9)" font-size="7.8" text-anchor="middle" fill="#000">Transcriopt ratio</text>
<text transform="translate(627.40,633.62) scale(0.9,1)" font-size="9" text-anchor="end" fill="#000">0.00</text>
<text transform="translate(627.40,609.68) scale(0.9,1)" font-size="9" text-anchor="end" fill="#000">5.00</text>
<text transform="translate(627.40,585.74) scale(0.9,1)" font-size="9" text-anchor="end" fill="#000">10.00</text>
<text transform="translate(627.40,561.80) scale(0.9,1)" font-size="9" text-anchor="end" fill="#000">15.00</text>
<text transform="translate(627.40,537.86) scale(0.9,1)" font-size="9" text-anchor="end" fill="#000">20.00</text>
<text transform="translate(627.40,513.92) scale(0.9,1)" font-size="9" text-anchor="end" fill="#000">25.00</text>
<text transform="translate(662.40,644.42) scale(0.9,1)" font-size="9" text-anchor="middle" fill="#000">PSI</text>
<text transform="translate(717.65,644.42) scale(0.9,1)" font-size="9" text-anchor="middle" fill="#000">PSII</text>
<text transform="translate(772.15,644.42) scale(0.9,1)" font-size="9" text-anchor="middle" fill="#000">WL</text>
<text transform="translate(654.60,568.57) scale(0.9,1)" font-size="9.5" text-anchor="middle" fill="#000">a</text>
<text transform="translate(670.60,598.97) scale(0.9,1)" font-size="9.5" text-anchor="middle" fill="#000">b</text>
<text transform="translate(714.40,520.00) scale(0.9,1)" font-size="12" text-anchor="middle" font-style="italic" fill="#000">psaA/psbD</text>
<text transform="translate(774.50,525.72) scale(0.9,1)" font-size="9" text-anchor="start" fill="#000">WT</text>
<text transform="translate(774.70,539.42) scale(0.9,1)" font-size="9" text-anchor="start" font-style="italic" fill="#000">phyB</text>
<text transform="translate(609.20,505.49) scale(0.9,1)" font-size="10.3" text-anchor="start" fill="#000">P</text>
<text transform="translate(4.30,13.30) scale(0.9,1)" font-size="10.5" text-anchor="start" fill="#000">A</text>
<text transform="translate(25.50,127.02) scale(0.83,1)" font-size="9" text-anchor="end" fill="#000">0</text>
<text transform="translate(25.50,110.22) scale(0.83,1)" font-size="9" text-anchor="end" fill="#000">0.2</text>
<text transform="translate(25.50,93.42) scale(0.83,1)" font-size="9" text-anchor="end" fill="#000">0.4</text>
<text transform="translate(25.50,76.62) scale(0.83,1)" font-size="9" text-anchor="end" fill="#000">0.6</text>
<text transform="translate(25.50,59.82) scale(0.83,1)" font-size="9" text-anchor="end" fill="#000">0.8</text>
<text transform="translate(25.50,43.02) scale(0.83,1)" font-size="9" text-anchor="end" fill="#000">1</text>
<text transform="translate(31.50,137.02) scale(0.83,1)" font-size="9" text-anchor="middle" fill="#000">0</text>
<text transform="translate(70.25,137.02) scale(0.83,1)" font-size="9" text-anchor="middle" fill="#000">100</text>
<text transform="translate(109.00,137.02) scale(0.83,1)" font-size="9" text-anchor="middle" fill="#000">200</text>
<text transform="translate(147.75,137.02) scale(0.83,1)" font-size="9" text-anchor="middle" fill="#000">300</text>
<text transform="translate(186.50,137.02) scale(0.83,1)" font-size="9" text-anchor="middle" fill="#000">400</text>
<text transform="translate(174.90,93.82) scale(0.83,1)" font-size="9" text-anchor="start" fill="#000">PSI</text>
<text transform="translate(174.90,102.72) scale(0.83,1)" font-size="9" text-anchor="start" fill="#000">PSII</text>
<text transform="translate(174.90,111.62) scale(0.83,1)" font-size="9" text-anchor="start" fill="#000">WL</text>
<text transform="translate(59.00,148.80) scale(0.83,1)" font-size="9" text-anchor="start" fill="#000">Light intensity (&#956;mol m<tspan font-size="6" dy="-3">-2</tspan><tspan dy="3"> s</tspan><tspan font-size="6" dy="-3">-1</tspan><tspan dy="3">)</tspan></text>
<text transform="translate(9.8,94.2) rotate(-90) scale(1,0.9)" font-size="7.5" text-anchor="middle" fill="#000">1-qL</text>
</g>
</svg>
</body></html>
